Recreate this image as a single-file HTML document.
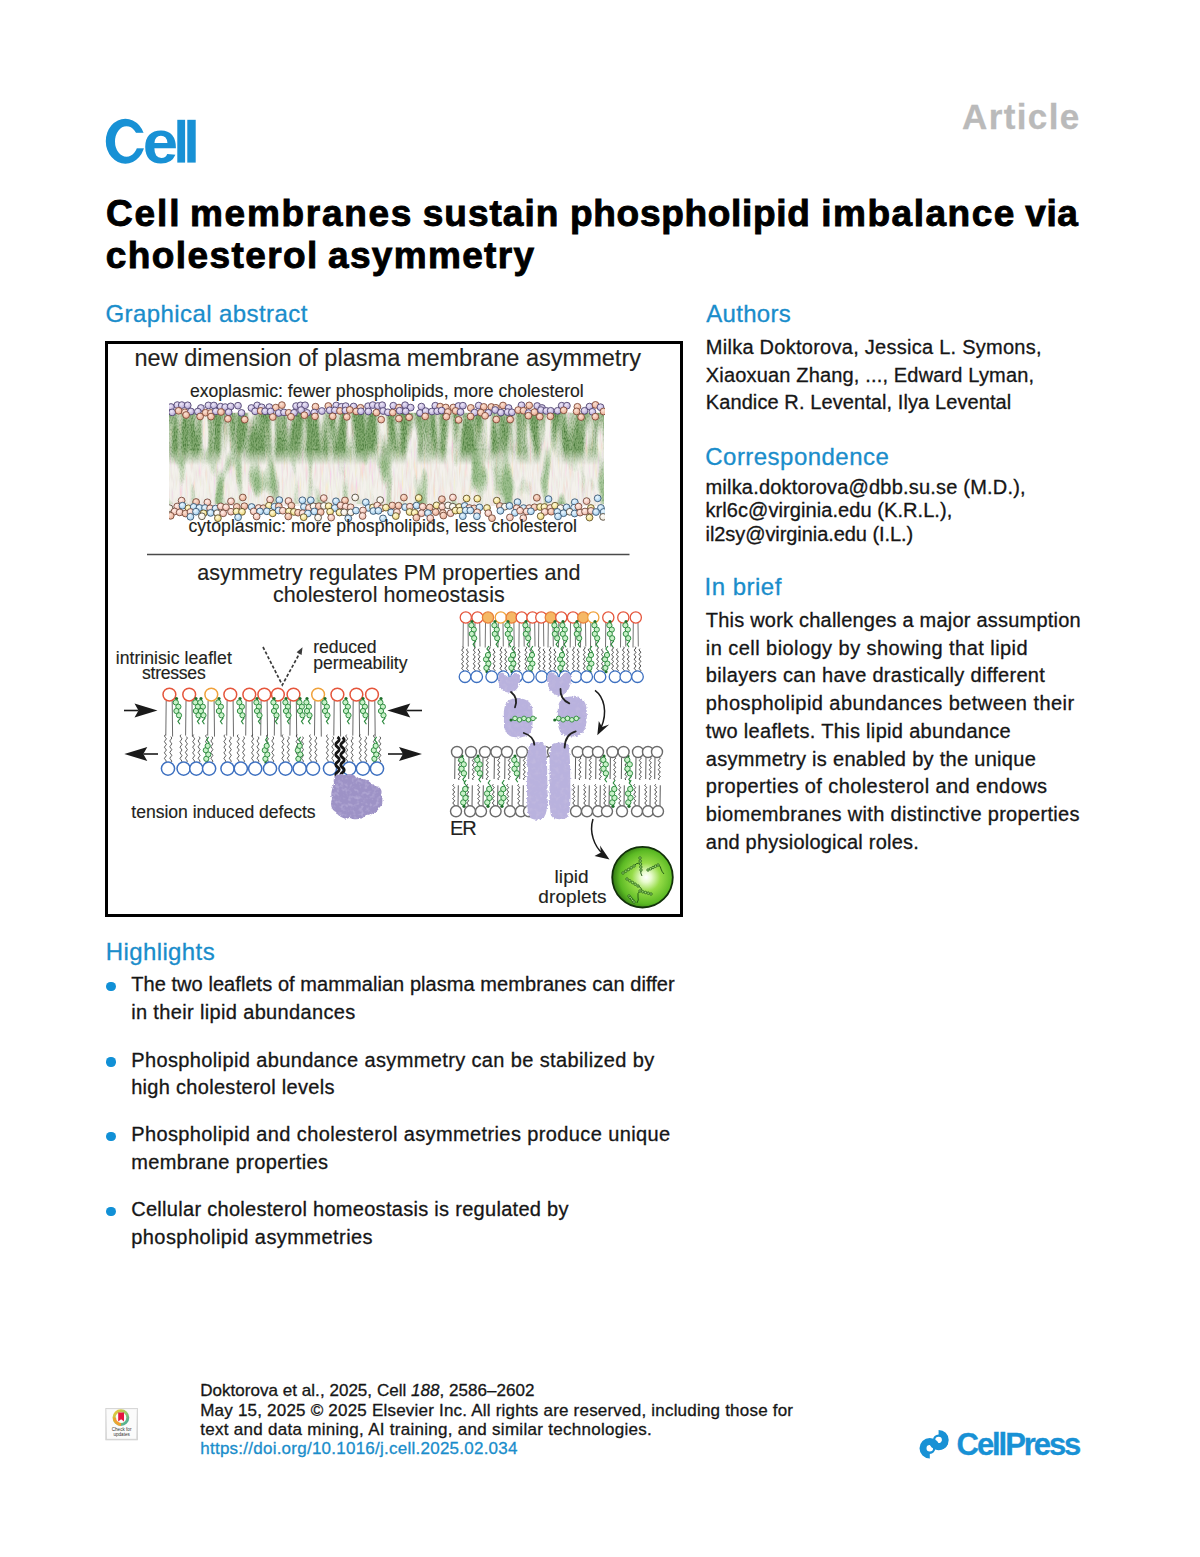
<!DOCTYPE html>
<html><head><meta charset="utf-8"><title>Cell membranes sustain phospholipid imbalance via cholesterol asymmetry</title>
<style>
html,body{margin:0;padding:0;background:#fff;}
body{width:1200px;height:1557px;position:relative;overflow:hidden;font-family:"Liberation Sans",sans-serif;color:#161616;}
.t{position:absolute;line-height:1;white-space:nowrap;-webkit-text-stroke:0.3px currentColor;}
.tt{-webkit-text-stroke:0.9px #000;}
.fg{-webkit-text-stroke:0.15px currentColor;}
.box{position:absolute;left:105px;top:341px;width:572px;height:570px;border:3px solid #000;}
.bul{position:absolute;width:9.3px;height:9.3px;border-radius:50%;background:#1190d6;}
svg.ov{position:absolute;left:0;top:0;}
</style></head><body>
<div class="box"></div>
<svg class="ov" width="1200" height="1557" viewBox="0 0 1200 1557"><defs><clipPath id="mclip"><rect x="169" y="398" width="436" height="124"/></clipPath><radialGradient id="ld" cx="0.56" cy="0.5" r="0.56"><stop offset="0" stop-color="#ffffff"/><stop offset="0.15" stop-color="#eafcd0"/><stop offset="0.42" stop-color="#96dc48"/><stop offset="0.78" stop-color="#5cba24"/><stop offset="1" stop-color="#2f7612"/></radialGradient><radialGradient id="hp" cx="0.4" cy="0.35" r="0.7"><stop offset="0" stop-color="#eee8f8"/><stop offset="1" stop-color="#b2a4d4"/></radialGradient><radialGradient id="ho" cx="0.4" cy="0.35" r="0.7"><stop offset="0" stop-color="#fbe4d6"/><stop offset="1" stop-color="#e8a68c"/></radialGradient><radialGradient id="hb" cx="0.4" cy="0.35" r="0.7"><stop offset="0" stop-color="#eef8ff"/><stop offset="1" stop-color="#9ccbec"/></radialGradient><radialGradient id="hy" cx="0.4" cy="0.35" r="0.7"><stop offset="0" stop-color="#fffbe0"/><stop offset="1" stop-color="#ecd46c"/></radialGradient><radialGradient id="hk" cx="0.4" cy="0.35" r="0.7"><stop offset="0" stop-color="#fff0ea"/><stop offset="1" stop-color="#eeb4a4"/></radialGradient><radialGradient id="hw" cx="0.4" cy="0.35" r="0.7"><stop offset="0" stop-color="#ffffff"/><stop offset="1" stop-color="#eee4d4"/></radialGradient><filter id="gtop" x="0" y="0" width="1" height="1" color-interpolation-filters="sRGB"><feTurbulence type="fractalNoise" baseFrequency="0.085 0.012" numOctaves="2" seed="11" result="n1"/><feColorMatrix in="n1" type="matrix" values="0 0 0 0 0.50  0 0 0 0 0.66  0 0 0 0 0.43  3.6 0 0 0 -1.15" result="c1"/><feTurbulence type="fractalNoise" baseFrequency="0.9 0.45" numOctaves="1" seed="4" result="n2"/><feColorMatrix in="n2" type="matrix" values="0 0 0 0 0.25  0 0 0 0 0.45  0 0 0 0 0.2  2.2 0 0 0 -0.9" result="c2"/><feComposite in="c2" in2="c1" operator="in" result="c3"/><feMerge><feMergeNode in="c1"/><feMergeNode in="c3"/></feMerge><feComposite in2="SourceGraphic" operator="in"/></filter><filter id="gbot" x="0" y="0" width="1" height="1" color-interpolation-filters="sRGB"><feTurbulence type="fractalNoise" baseFrequency="0.07 0.02" numOctaves="2" seed="23" result="n1"/><feColorMatrix in="n1" type="matrix" values="0 0 0 0 0.52  0 0 0 0 0.70  0 0 0 0 0.46  4.5 0 0 0 -2.3" result="c1"/><feTurbulence type="fractalNoise" baseFrequency="0.9 0.45" numOctaves="1" seed="8" result="n2"/><feColorMatrix in="n2" type="matrix" values="0 0 0 0 0.3  0 0 0 0 0.52  0 0 0 0 0.25  2.2 0 0 0 -0.95" result="c2"/><feComposite in="c2" in2="c1" operator="in" result="c3"/><feMerge><feMergeNode in="c1"/><feMergeNode in="c3"/></feMerge><feComposite in2="SourceGraphic" operator="in"/></filter><filter id="past" x="0" y="0" width="1" height="1" color-interpolation-filters="sRGB"><feTurbulence type="fractalNoise" baseFrequency="0.5 0.05" numOctaves="2" seed="2" result="n1"/><feColorMatrix in="n1" type="matrix" values="1.2 0 0 0 0.1  0 1.0 0 0 0.2  0 0 1.0 0 0.15  2 0 0 0 -0.75"/><feComposite in2="SourceGraphic" operator="in"/></filter></defs><g clip-path="url(#mclip)"><rect x="169" y="412" width="435" height="94" fill="#f4f1ec"/><rect x="169" y="412" width="435" height="94" fill="#fff" filter="url(#past)" opacity="0.3"/><defs><linearGradient id="fT" x1="0" y1="0" x2="0" y2="1"><stop offset="0" stop-color="#fff"/><stop offset="0.7" stop-color="#fff"/><stop offset="1" stop-color="#000"/></linearGradient><linearGradient id="fB" x1="0" y1="0" x2="0" y2="1"><stop offset="0" stop-color="#000"/><stop offset="0.3" stop-color="#fff"/><stop offset="1" stop-color="#fff"/></linearGradient><mask id="mT" maskUnits="userSpaceOnUse" x="169" y="410" width="436" height="60"><rect x="169" y="413" width="436" height="52" fill="url(#fT)"/></mask><mask id="mB" maskUnits="userSpaceOnUse" x="169" y="440" width="436" height="70"><rect x="169" y="446" width="436" height="58" fill="url(#fB)"/></mask></defs><g mask="url(#mT)"><rect x="169" y="413" width="435" height="52" fill="#fff" filter="url(#gtop)"/></g><g mask="url(#mB)" opacity="0.8"><rect x="169" y="446" width="435" height="58" fill="#fff" filter="url(#gbot)"/></g><circle cx="171.0" cy="407.0" r="3.4" fill="url(#hp)" stroke="#4a3e6a" stroke-width="0.85"/><circle cx="177.3" cy="405.1" r="3.4" fill="url(#hp)" stroke="#4a3e6a" stroke-width="0.85"/><circle cx="181.8" cy="405.1" r="3.4" fill="url(#hp)" stroke="#4a3e6a" stroke-width="0.85"/><circle cx="187.7" cy="405.3" r="3.4" fill="url(#hp)" stroke="#4a3e6a" stroke-width="0.85"/><circle cx="200.9" cy="408.0" r="3.4" fill="url(#hp)" stroke="#4a3e6a" stroke-width="0.85"/><circle cx="208.4" cy="405.4" r="3.4" fill="url(#hp)" stroke="#4a3e6a" stroke-width="0.85"/><circle cx="213.9" cy="405.5" r="3.4" fill="url(#hp)" stroke="#4a3e6a" stroke-width="0.85"/><circle cx="220.6" cy="406.7" r="3.4" fill="url(#hp)" stroke="#4a3e6a" stroke-width="0.85"/><circle cx="225.2" cy="407.1" r="3.4" fill="url(#hp)" stroke="#4a3e6a" stroke-width="0.85"/><circle cx="230.7" cy="406.4" r="3.4" fill="url(#hp)" stroke="#4a3e6a" stroke-width="0.85"/><circle cx="238.0" cy="405.7" r="3.4" fill="url(#hp)" stroke="#4a3e6a" stroke-width="0.85"/><circle cx="251.4" cy="408.0" r="3.4" fill="url(#hp)" stroke="#4a3e6a" stroke-width="0.85"/><circle cx="257.2" cy="405.4" r="3.4" fill="url(#hp)" stroke="#4a3e6a" stroke-width="0.85"/><circle cx="261.7" cy="407.3" r="3.4" fill="url(#hp)" stroke="#4a3e6a" stroke-width="0.85"/><circle cx="269.3" cy="407.1" r="3.4" fill="url(#hp)" stroke="#4a3e6a" stroke-width="0.85"/><circle cx="275.8" cy="407.6" r="3.4" fill="url(#ho)" stroke="#7a4434" stroke-width="0.85"/><circle cx="281.9" cy="405.1" r="3.4" fill="url(#ho)" stroke="#7a4434" stroke-width="0.85"/><circle cx="296.1" cy="406.1" r="3.4" fill="url(#hp)" stroke="#4a3e6a" stroke-width="0.85"/><circle cx="300.5" cy="405.4" r="3.4" fill="url(#hp)" stroke="#4a3e6a" stroke-width="0.85"/><circle cx="305.1" cy="405.3" r="3.4" fill="url(#hp)" stroke="#4a3e6a" stroke-width="0.85"/><circle cx="315.5" cy="406.7" r="3.4" fill="url(#ho)" stroke="#7a4434" stroke-width="0.85"/><circle cx="328.3" cy="406.0" r="3.4" fill="url(#ho)" stroke="#7a4434" stroke-width="0.85"/><circle cx="336.2" cy="405.5" r="3.4" fill="url(#hp)" stroke="#4a3e6a" stroke-width="0.85"/><circle cx="341.4" cy="406.8" r="3.4" fill="url(#hp)" stroke="#4a3e6a" stroke-width="0.85"/><circle cx="345.7" cy="406.1" r="3.4" fill="url(#hp)" stroke="#4a3e6a" stroke-width="0.85"/><circle cx="353.6" cy="406.5" r="3.4" fill="url(#hp)" stroke="#4a3e6a" stroke-width="0.85"/><circle cx="360.5" cy="407.8" r="3.4" fill="url(#ho)" stroke="#7a4434" stroke-width="0.85"/><circle cx="368.1" cy="406.2" r="3.4" fill="url(#hp)" stroke="#4a3e6a" stroke-width="0.85"/><circle cx="372.8" cy="405.1" r="3.4" fill="url(#hp)" stroke="#4a3e6a" stroke-width="0.85"/><circle cx="377.9" cy="406.0" r="3.4" fill="url(#hp)" stroke="#4a3e6a" stroke-width="0.85"/><circle cx="382.2" cy="405.2" r="3.4" fill="url(#hp)" stroke="#4a3e6a" stroke-width="0.85"/><circle cx="393.3" cy="405.7" r="3.4" fill="url(#hp)" stroke="#4a3e6a" stroke-width="0.85"/><circle cx="399.0" cy="407.6" r="3.4" fill="url(#ho)" stroke="#7a4434" stroke-width="0.85"/><circle cx="405.1" cy="405.2" r="3.4" fill="url(#hp)" stroke="#4a3e6a" stroke-width="0.85"/><circle cx="410.7" cy="407.6" r="3.4" fill="url(#hp)" stroke="#4a3e6a" stroke-width="0.85"/><circle cx="421.4" cy="406.6" r="3.4" fill="url(#hp)" stroke="#4a3e6a" stroke-width="0.85"/><circle cx="435.3" cy="405.7" r="3.4" fill="url(#hp)" stroke="#4a3e6a" stroke-width="0.85"/><circle cx="440.2" cy="406.6" r="3.4" fill="url(#ho)" stroke="#7a4434" stroke-width="0.85"/><circle cx="445.8" cy="407.5" r="3.4" fill="url(#ho)" stroke="#7a4434" stroke-width="0.85"/><circle cx="453.3" cy="407.5" r="3.4" fill="url(#ho)" stroke="#7a4434" stroke-width="0.85"/><circle cx="458.5" cy="406.0" r="3.4" fill="url(#hp)" stroke="#4a3e6a" stroke-width="0.85"/><circle cx="462.9" cy="405.7" r="3.4" fill="url(#hp)" stroke="#4a3e6a" stroke-width="0.85"/><circle cx="470.8" cy="407.9" r="3.4" fill="url(#ho)" stroke="#7a4434" stroke-width="0.85"/><circle cx="478.7" cy="405.6" r="3.4" fill="url(#hp)" stroke="#4a3e6a" stroke-width="0.85"/><circle cx="483.8" cy="406.9" r="3.4" fill="url(#ho)" stroke="#7a4434" stroke-width="0.85"/><circle cx="491.3" cy="407.0" r="3.4" fill="url(#ho)" stroke="#7a4434" stroke-width="0.85"/><circle cx="495.9" cy="407.8" r="3.4" fill="url(#ho)" stroke="#7a4434" stroke-width="0.85"/><circle cx="503.0" cy="405.5" r="3.4" fill="url(#ho)" stroke="#7a4434" stroke-width="0.85"/><circle cx="508.6" cy="408.0" r="3.4" fill="url(#hp)" stroke="#4a3e6a" stroke-width="0.85"/><circle cx="521.5" cy="405.3" r="3.4" fill="url(#hp)" stroke="#4a3e6a" stroke-width="0.85"/><circle cx="529.2" cy="405.4" r="3.4" fill="url(#ho)" stroke="#7a4434" stroke-width="0.85"/><circle cx="537.2" cy="406.0" r="3.4" fill="url(#hp)" stroke="#4a3e6a" stroke-width="0.85"/><circle cx="542.0" cy="408.0" r="3.4" fill="url(#hp)" stroke="#4a3e6a" stroke-width="0.85"/><circle cx="561.7" cy="405.7" r="3.4" fill="url(#hp)" stroke="#4a3e6a" stroke-width="0.85"/><circle cx="566.9" cy="405.7" r="3.4" fill="url(#hp)" stroke="#4a3e6a" stroke-width="0.85"/><circle cx="577.4" cy="406.8" r="3.4" fill="url(#ho)" stroke="#7a4434" stroke-width="0.85"/><circle cx="589.5" cy="406.6" r="3.4" fill="url(#hp)" stroke="#4a3e6a" stroke-width="0.85"/><circle cx="595.5" cy="404.9" r="3.4" fill="url(#ho)" stroke="#7a4434" stroke-width="0.85"/><circle cx="600.5" cy="407.2" r="3.4" fill="url(#hp)" stroke="#4a3e6a" stroke-width="0.85"/><circle cx="172.2" cy="412.4" r="3.4" fill="url(#hp)" stroke="#4a3e6a" stroke-width="0.85"/><circle cx="178.6" cy="410.8" r="3.4" fill="url(#ho)" stroke="#7a4434" stroke-width="0.85"/><circle cx="184.9" cy="412.3" r="3.4" fill="url(#ho)" stroke="#7a4434" stroke-width="0.85"/><circle cx="190.9" cy="411.5" r="3.4" fill="url(#hp)" stroke="#4a3e6a" stroke-width="0.85"/><circle cx="197.8" cy="411.6" r="3.4" fill="url(#hp)" stroke="#4a3e6a" stroke-width="0.85"/><circle cx="205.6" cy="412.7" r="3.4" fill="url(#ho)" stroke="#7a4434" stroke-width="0.85"/><circle cx="210.9" cy="412.9" r="3.4" fill="url(#ho)" stroke="#7a4434" stroke-width="0.85"/><circle cx="215.8" cy="411.3" r="3.4" fill="url(#hp)" stroke="#4a3e6a" stroke-width="0.85"/><circle cx="221.0" cy="412.0" r="3.4" fill="url(#ho)" stroke="#7a4434" stroke-width="0.85"/><circle cx="228.7" cy="412.2" r="3.4" fill="url(#hp)" stroke="#4a3e6a" stroke-width="0.85"/><circle cx="241.5" cy="412.9" r="3.4" fill="url(#hp)" stroke="#4a3e6a" stroke-width="0.85"/><circle cx="255.1" cy="411.3" r="3.4" fill="url(#hp)" stroke="#4a3e6a" stroke-width="0.85"/><circle cx="260.7" cy="410.9" r="3.4" fill="url(#ho)" stroke="#7a4434" stroke-width="0.85"/><circle cx="265.1" cy="411.3" r="3.4" fill="url(#hp)" stroke="#4a3e6a" stroke-width="0.85"/><circle cx="270.7" cy="411.5" r="3.4" fill="url(#hp)" stroke="#4a3e6a" stroke-width="0.85"/><circle cx="278.7" cy="413.0" r="3.4" fill="url(#hp)" stroke="#4a3e6a" stroke-width="0.85"/><circle cx="284.0" cy="412.4" r="3.4" fill="url(#hp)" stroke="#4a3e6a" stroke-width="0.85"/><circle cx="288.8" cy="412.8" r="3.4" fill="url(#ho)" stroke="#7a4434" stroke-width="0.85"/><circle cx="294.1" cy="412.8" r="3.4" fill="url(#hp)" stroke="#4a3e6a" stroke-width="0.85"/><circle cx="301.1" cy="410.1" r="3.4" fill="url(#hp)" stroke="#4a3e6a" stroke-width="0.85"/><circle cx="307.0" cy="412.9" r="3.4" fill="url(#hp)" stroke="#4a3e6a" stroke-width="0.85"/><circle cx="314.3" cy="412.6" r="3.4" fill="url(#hp)" stroke="#4a3e6a" stroke-width="0.85"/><circle cx="321.9" cy="411.0" r="3.4" fill="url(#hp)" stroke="#4a3e6a" stroke-width="0.85"/><circle cx="329.7" cy="410.3" r="3.4" fill="url(#hp)" stroke="#4a3e6a" stroke-width="0.85"/><circle cx="334.9" cy="410.4" r="3.4" fill="url(#hp)" stroke="#4a3e6a" stroke-width="0.85"/><circle cx="340.0" cy="410.9" r="3.4" fill="url(#ho)" stroke="#7a4434" stroke-width="0.85"/><circle cx="345.4" cy="410.5" r="3.4" fill="url(#hp)" stroke="#4a3e6a" stroke-width="0.85"/><circle cx="349.8" cy="409.9" r="3.4" fill="url(#ho)" stroke="#7a4434" stroke-width="0.85"/><circle cx="356.2" cy="411.4" r="3.4" fill="url(#ho)" stroke="#7a4434" stroke-width="0.85"/><circle cx="360.9" cy="411.3" r="3.4" fill="url(#hp)" stroke="#4a3e6a" stroke-width="0.85"/><circle cx="368.4" cy="411.5" r="3.4" fill="url(#hp)" stroke="#4a3e6a" stroke-width="0.85"/><circle cx="376.4" cy="412.6" r="3.4" fill="url(#ho)" stroke="#7a4434" stroke-width="0.85"/><circle cx="383.1" cy="411.0" r="3.4" fill="url(#hp)" stroke="#4a3e6a" stroke-width="0.85"/><circle cx="387.9" cy="412.3" r="3.4" fill="url(#hp)" stroke="#4a3e6a" stroke-width="0.85"/><circle cx="392.8" cy="412.6" r="3.4" fill="url(#ho)" stroke="#7a4434" stroke-width="0.85"/><circle cx="399.7" cy="410.7" r="3.4" fill="url(#hp)" stroke="#4a3e6a" stroke-width="0.85"/><circle cx="405.7" cy="411.3" r="3.4" fill="url(#hp)" stroke="#4a3e6a" stroke-width="0.85"/><circle cx="420.0" cy="413.0" r="3.4" fill="url(#hp)" stroke="#4a3e6a" stroke-width="0.85"/><circle cx="425.7" cy="411.1" r="3.4" fill="url(#hp)" stroke="#4a3e6a" stroke-width="0.85"/><circle cx="431.9" cy="411.5" r="3.4" fill="url(#hp)" stroke="#4a3e6a" stroke-width="0.85"/><circle cx="437.2" cy="411.2" r="3.4" fill="url(#hp)" stroke="#4a3e6a" stroke-width="0.85"/><circle cx="441.6" cy="410.6" r="3.4" fill="url(#hp)" stroke="#4a3e6a" stroke-width="0.85"/><circle cx="447.9" cy="412.0" r="3.4" fill="url(#ho)" stroke="#7a4434" stroke-width="0.85"/><circle cx="455.6" cy="410.9" r="3.4" fill="url(#ho)" stroke="#7a4434" stroke-width="0.85"/><circle cx="460.5" cy="412.0" r="3.4" fill="url(#hp)" stroke="#4a3e6a" stroke-width="0.85"/><circle cx="474.6" cy="412.5" r="3.4" fill="url(#hp)" stroke="#4a3e6a" stroke-width="0.85"/><circle cx="480.9" cy="412.6" r="3.4" fill="url(#ho)" stroke="#7a4434" stroke-width="0.85"/><circle cx="488.3" cy="412.8" r="3.4" fill="url(#hp)" stroke="#4a3e6a" stroke-width="0.85"/><circle cx="495.2" cy="410.0" r="3.4" fill="url(#hp)" stroke="#4a3e6a" stroke-width="0.85"/><circle cx="500.9" cy="412.6" r="3.4" fill="url(#hp)" stroke="#4a3e6a" stroke-width="0.85"/><circle cx="507.6" cy="412.1" r="3.4" fill="url(#hp)" stroke="#4a3e6a" stroke-width="0.85"/><circle cx="511.9" cy="412.3" r="3.4" fill="url(#hp)" stroke="#4a3e6a" stroke-width="0.85"/><circle cx="518.2" cy="410.1" r="3.4" fill="url(#ho)" stroke="#7a4434" stroke-width="0.85"/><circle cx="523.5" cy="410.7" r="3.4" fill="url(#ho)" stroke="#7a4434" stroke-width="0.85"/><circle cx="528.6" cy="413.0" r="3.4" fill="url(#hp)" stroke="#4a3e6a" stroke-width="0.85"/><circle cx="534.4" cy="412.1" r="3.4" fill="url(#ho)" stroke="#7a4434" stroke-width="0.85"/><circle cx="541.0" cy="410.1" r="3.4" fill="url(#hp)" stroke="#4a3e6a" stroke-width="0.85"/><circle cx="546.3" cy="410.9" r="3.4" fill="url(#hp)" stroke="#4a3e6a" stroke-width="0.85"/><circle cx="550.7" cy="410.8" r="3.4" fill="url(#hp)" stroke="#4a3e6a" stroke-width="0.85"/><circle cx="557.6" cy="410.8" r="3.4" fill="url(#hp)" stroke="#4a3e6a" stroke-width="0.85"/><circle cx="563.7" cy="410.3" r="3.4" fill="url(#ho)" stroke="#7a4434" stroke-width="0.85"/><circle cx="576.6" cy="411.4" r="3.4" fill="url(#ho)" stroke="#7a4434" stroke-width="0.85"/><circle cx="584.5" cy="410.8" r="3.4" fill="url(#hp)" stroke="#4a3e6a" stroke-width="0.85"/><circle cx="592.4" cy="411.8" r="3.4" fill="url(#hp)" stroke="#4a3e6a" stroke-width="0.85"/><circle cx="603.5" cy="411.5" r="3.4" fill="url(#ho)" stroke="#7a4434" stroke-width="0.85"/><circle cx="186.1" cy="415.0" r="3.4" fill="url(#ho)" stroke="#7a4434" stroke-width="0.85"/><circle cx="200.1" cy="416.5" r="3.4" fill="url(#ho)" stroke="#7a4434" stroke-width="0.85"/><circle cx="211.0" cy="416.6" r="3.4" fill="url(#ho)" stroke="#7a4434" stroke-width="0.85"/><circle cx="227.9" cy="418.8" r="3.4" fill="url(#ho)" stroke="#7a4434" stroke-width="0.85"/><circle cx="244.7" cy="419.6" r="3.4" fill="url(#ho)" stroke="#7a4434" stroke-width="0.85"/><circle cx="272.8" cy="417.0" r="3.4" fill="url(#ho)" stroke="#7a4434" stroke-width="0.85"/><circle cx="291.0" cy="416.8" r="3.4" fill="url(#ho)" stroke="#7a4434" stroke-width="0.85"/><circle cx="304.4" cy="415.2" r="3.4" fill="url(#ho)" stroke="#7a4434" stroke-width="0.85"/><circle cx="315.0" cy="416.4" r="3.4" fill="url(#ho)" stroke="#7a4434" stroke-width="0.85"/><circle cx="332.7" cy="416.3" r="3.4" fill="url(#ho)" stroke="#7a4434" stroke-width="0.85"/><circle cx="346.8" cy="416.9" r="3.4" fill="url(#ho)" stroke="#7a4434" stroke-width="0.85"/><circle cx="381.2" cy="419.6" r="3.4" fill="url(#ho)" stroke="#7a4434" stroke-width="0.85"/><circle cx="398.9" cy="418.6" r="3.4" fill="url(#ho)" stroke="#7a4434" stroke-width="0.85"/><circle cx="409.1" cy="417.3" r="3.4" fill="url(#ho)" stroke="#7a4434" stroke-width="0.85"/><circle cx="425.2" cy="416.4" r="3.4" fill="url(#ho)" stroke="#7a4434" stroke-width="0.85"/><circle cx="446.3" cy="416.7" r="3.4" fill="url(#ho)" stroke="#7a4434" stroke-width="0.85"/><circle cx="458.6" cy="419.9" r="3.4" fill="url(#ho)" stroke="#7a4434" stroke-width="0.85"/><circle cx="470.6" cy="416.5" r="3.4" fill="url(#ho)" stroke="#7a4434" stroke-width="0.85"/><circle cx="485.1" cy="415.8" r="3.4" fill="url(#ho)" stroke="#7a4434" stroke-width="0.85"/><circle cx="496.3" cy="419.5" r="3.4" fill="url(#ho)" stroke="#7a4434" stroke-width="0.85"/><circle cx="510.2" cy="419.5" r="3.4" fill="url(#ho)" stroke="#7a4434" stroke-width="0.85"/><circle cx="528.4" cy="415.7" r="3.4" fill="url(#ho)" stroke="#7a4434" stroke-width="0.85"/><circle cx="539.8" cy="416.7" r="3.4" fill="url(#ho)" stroke="#7a4434" stroke-width="0.85"/><circle cx="550.4" cy="416.3" r="3.4" fill="url(#ho)" stroke="#7a4434" stroke-width="0.85"/><circle cx="581.1" cy="417.1" r="3.4" fill="url(#ho)" stroke="#7a4434" stroke-width="0.85"/><circle cx="595.3" cy="416.7" r="3.4" fill="url(#ho)" stroke="#7a4434" stroke-width="0.85"/><circle cx="181.6" cy="500.6" r="3.4" fill="url(#hk)" stroke="#6e4438" stroke-width="0.85"/><circle cx="196.1" cy="502.0" r="3.4" fill="url(#ho)" stroke="#6e4434" stroke-width="0.85"/><circle cx="207.4" cy="502.3" r="3.4" fill="url(#hk)" stroke="#6e4438" stroke-width="0.85"/><circle cx="231.0" cy="501.3" r="3.4" fill="url(#hk)" stroke="#6e4438" stroke-width="0.85"/><circle cx="242.8" cy="497.5" r="3.4" fill="url(#ho)" stroke="#6e4434" stroke-width="0.85"/><circle cx="270.1" cy="499.7" r="3.4" fill="url(#hk)" stroke="#6e4438" stroke-width="0.85"/><circle cx="279.3" cy="500.1" r="3.4" fill="url(#hb)" stroke="#34506c" stroke-width="0.85"/><circle cx="288.5" cy="501.0" r="3.4" fill="url(#hk)" stroke="#6e4438" stroke-width="0.85"/><circle cx="302.4" cy="500.3" r="3.4" fill="url(#hb)" stroke="#34506c" stroke-width="0.85"/><circle cx="310.8" cy="500.3" r="3.4" fill="url(#hb)" stroke="#34506c" stroke-width="0.85"/><circle cx="323.8" cy="498.1" r="3.4" fill="url(#hk)" stroke="#6e4438" stroke-width="0.85"/><circle cx="336.0" cy="501.3" r="3.4" fill="url(#hb)" stroke="#34506c" stroke-width="0.85"/><circle cx="345.0" cy="500.4" r="3.4" fill="url(#ho)" stroke="#6e4434" stroke-width="0.85"/><circle cx="355.2" cy="497.5" r="3.4" fill="url(#hw)" stroke="#4a4234" stroke-width="0.85"/><circle cx="365.8" cy="502.3" r="3.4" fill="url(#hb)" stroke="#34506c" stroke-width="0.85"/><circle cx="380.2" cy="500.1" r="3.4" fill="url(#hw)" stroke="#4a4234" stroke-width="0.85"/><circle cx="403.9" cy="497.6" r="3.4" fill="url(#ho)" stroke="#6e4434" stroke-width="0.85"/><circle cx="418.7" cy="497.9" r="3.4" fill="url(#hy)" stroke="#5a4a24" stroke-width="0.85"/><circle cx="441.9" cy="499.2" r="3.4" fill="url(#ho)" stroke="#6e4434" stroke-width="0.85"/><circle cx="452.9" cy="497.5" r="3.4" fill="url(#hk)" stroke="#6e4438" stroke-width="0.85"/><circle cx="466.6" cy="498.5" r="3.4" fill="url(#hy)" stroke="#5a4a24" stroke-width="0.85"/><circle cx="477.3" cy="498.7" r="3.4" fill="url(#hy)" stroke="#5a4a24" stroke-width="0.85"/><circle cx="496.8" cy="500.6" r="3.4" fill="url(#hy)" stroke="#5a4a24" stroke-width="0.85"/><circle cx="517.5" cy="502.1" r="3.4" fill="url(#hb)" stroke="#34506c" stroke-width="0.85"/><circle cx="536.8" cy="497.8" r="3.4" fill="url(#ho)" stroke="#6e4434" stroke-width="0.85"/><circle cx="548.5" cy="499.1" r="3.4" fill="url(#hb)" stroke="#34506c" stroke-width="0.85"/><circle cx="574.8" cy="502.2" r="3.4" fill="url(#hb)" stroke="#34506c" stroke-width="0.85"/><circle cx="586.6" cy="501.1" r="3.4" fill="url(#hk)" stroke="#6e4438" stroke-width="0.85"/><circle cx="597.7" cy="498.3" r="3.4" fill="url(#hb)" stroke="#34506c" stroke-width="0.85"/><circle cx="169.5" cy="508.2" r="3.4" fill="url(#hw)" stroke="#4a4234" stroke-width="0.85"/><circle cx="177.2" cy="506.5" r="3.4" fill="url(#hk)" stroke="#6e4438" stroke-width="0.85"/><circle cx="182.5" cy="505.7" r="3.4" fill="url(#hb)" stroke="#34506c" stroke-width="0.85"/><circle cx="188.4" cy="508.3" r="3.4" fill="url(#hy)" stroke="#5a4a24" stroke-width="0.85"/><circle cx="193.7" cy="506.9" r="3.4" fill="url(#hb)" stroke="#34506c" stroke-width="0.85"/><circle cx="199.4" cy="507.9" r="3.4" fill="url(#hb)" stroke="#34506c" stroke-width="0.85"/><circle cx="205.0" cy="508.0" r="3.4" fill="url(#hb)" stroke="#34506c" stroke-width="0.85"/><circle cx="210.1" cy="508.3" r="3.4" fill="url(#hk)" stroke="#6e4438" stroke-width="0.85"/><circle cx="215.6" cy="508.5" r="3.4" fill="url(#hb)" stroke="#34506c" stroke-width="0.85"/><circle cx="220.7" cy="506.4" r="3.4" fill="url(#hk)" stroke="#6e4438" stroke-width="0.85"/><circle cx="226.0" cy="507.3" r="3.4" fill="url(#hk)" stroke="#6e4438" stroke-width="0.85"/><circle cx="236.8" cy="506.9" r="3.4" fill="url(#ho)" stroke="#6e4434" stroke-width="0.85"/><circle cx="244.4" cy="506.2" r="3.4" fill="url(#ho)" stroke="#6e4434" stroke-width="0.85"/><circle cx="251.6" cy="507.0" r="3.4" fill="url(#hb)" stroke="#34506c" stroke-width="0.85"/><circle cx="258.6" cy="508.0" r="3.4" fill="url(#hk)" stroke="#6e4438" stroke-width="0.85"/><circle cx="263.4" cy="508.2" r="3.4" fill="url(#ho)" stroke="#6e4434" stroke-width="0.85"/><circle cx="268.9" cy="505.7" r="3.4" fill="url(#hy)" stroke="#5a4a24" stroke-width="0.85"/><circle cx="274.5" cy="506.7" r="3.4" fill="url(#hb)" stroke="#34506c" stroke-width="0.85"/><circle cx="278.8" cy="506.4" r="3.4" fill="url(#ho)" stroke="#6e4434" stroke-width="0.85"/><circle cx="291.4" cy="505.7" r="3.4" fill="url(#ho)" stroke="#6e4434" stroke-width="0.85"/><circle cx="303.9" cy="506.9" r="3.4" fill="url(#hb)" stroke="#34506c" stroke-width="0.85"/><circle cx="309.0" cy="507.9" r="3.4" fill="url(#hk)" stroke="#6e4438" stroke-width="0.85"/><circle cx="313.6" cy="506.3" r="3.4" fill="url(#hw)" stroke="#4a4234" stroke-width="0.85"/><circle cx="318.8" cy="506.2" r="3.4" fill="url(#ho)" stroke="#6e4434" stroke-width="0.85"/><circle cx="323.9" cy="505.9" r="3.4" fill="url(#hw)" stroke="#4a4234" stroke-width="0.85"/><circle cx="328.7" cy="506.2" r="3.4" fill="url(#hy)" stroke="#5a4a24" stroke-width="0.85"/><circle cx="334.8" cy="508.0" r="3.4" fill="url(#hb)" stroke="#34506c" stroke-width="0.85"/><circle cx="340.6" cy="505.4" r="3.4" fill="url(#hk)" stroke="#6e4438" stroke-width="0.85"/><circle cx="345.7" cy="506.6" r="3.4" fill="url(#hk)" stroke="#6e4438" stroke-width="0.85"/><circle cx="350.7" cy="507.3" r="3.4" fill="url(#hk)" stroke="#6e4438" stroke-width="0.85"/><circle cx="368.4" cy="507.9" r="3.4" fill="url(#hb)" stroke="#34506c" stroke-width="0.85"/><circle cx="373.0" cy="507.4" r="3.4" fill="url(#hy)" stroke="#5a4a24" stroke-width="0.85"/><circle cx="377.3" cy="505.5" r="3.4" fill="url(#hk)" stroke="#6e4438" stroke-width="0.85"/><circle cx="381.6" cy="508.3" r="3.4" fill="url(#hk)" stroke="#6e4438" stroke-width="0.85"/><circle cx="385.9" cy="507.6" r="3.4" fill="url(#hy)" stroke="#5a4a24" stroke-width="0.85"/><circle cx="392.3" cy="505.5" r="3.4" fill="url(#ho)" stroke="#6e4434" stroke-width="0.85"/><circle cx="398.5" cy="505.7" r="3.4" fill="url(#ho)" stroke="#6e4434" stroke-width="0.85"/><circle cx="405.1" cy="507.1" r="3.4" fill="url(#hb)" stroke="#34506c" stroke-width="0.85"/><circle cx="409.9" cy="506.7" r="3.4" fill="url(#hk)" stroke="#6e4438" stroke-width="0.85"/><circle cx="416.5" cy="505.6" r="3.4" fill="url(#hb)" stroke="#34506c" stroke-width="0.85"/><circle cx="422.7" cy="506.7" r="3.4" fill="url(#hk)" stroke="#6e4438" stroke-width="0.85"/><circle cx="429.7" cy="507.5" r="3.4" fill="url(#ho)" stroke="#6e4434" stroke-width="0.85"/><circle cx="436.5" cy="505.4" r="3.4" fill="url(#hy)" stroke="#5a4a24" stroke-width="0.85"/><circle cx="442.2" cy="506.7" r="3.4" fill="url(#hk)" stroke="#6e4438" stroke-width="0.85"/><circle cx="448.1" cy="505.4" r="3.4" fill="url(#hw)" stroke="#4a4234" stroke-width="0.85"/><circle cx="452.8" cy="506.7" r="3.4" fill="url(#hw)" stroke="#4a4234" stroke-width="0.85"/><circle cx="459.2" cy="507.0" r="3.4" fill="url(#hy)" stroke="#5a4a24" stroke-width="0.85"/><circle cx="464.7" cy="505.9" r="3.4" fill="url(#hb)" stroke="#34506c" stroke-width="0.85"/><circle cx="469.3" cy="508.0" r="3.4" fill="url(#hk)" stroke="#6e4438" stroke-width="0.85"/><circle cx="474.2" cy="508.4" r="3.4" fill="url(#ho)" stroke="#6e4434" stroke-width="0.85"/><circle cx="479.5" cy="507.4" r="3.4" fill="url(#hb)" stroke="#34506c" stroke-width="0.85"/><circle cx="487.0" cy="508.0" r="3.4" fill="url(#hy)" stroke="#5a4a24" stroke-width="0.85"/><circle cx="499.9" cy="506.0" r="3.4" fill="url(#ho)" stroke="#6e4434" stroke-width="0.85"/><circle cx="504.8" cy="506.7" r="3.4" fill="url(#hw)" stroke="#4a4234" stroke-width="0.85"/><circle cx="509.5" cy="505.9" r="3.4" fill="url(#hb)" stroke="#34506c" stroke-width="0.85"/><circle cx="516.7" cy="508.2" r="3.4" fill="url(#hk)" stroke="#6e4438" stroke-width="0.85"/><circle cx="523.6" cy="508.1" r="3.4" fill="url(#hb)" stroke="#34506c" stroke-width="0.85"/><circle cx="529.2" cy="508.1" r="3.4" fill="url(#hk)" stroke="#6e4438" stroke-width="0.85"/><circle cx="534.5" cy="507.3" r="3.4" fill="url(#ho)" stroke="#6e4434" stroke-width="0.85"/><circle cx="540.1" cy="507.0" r="3.4" fill="url(#hy)" stroke="#5a4a24" stroke-width="0.85"/><circle cx="544.4" cy="507.0" r="3.4" fill="url(#hy)" stroke="#5a4a24" stroke-width="0.85"/><circle cx="550.2" cy="508.0" r="3.4" fill="url(#hk)" stroke="#6e4438" stroke-width="0.85"/><circle cx="555.0" cy="505.7" r="3.4" fill="url(#hy)" stroke="#5a4a24" stroke-width="0.85"/><circle cx="560.5" cy="508.0" r="3.4" fill="url(#hw)" stroke="#4a4234" stroke-width="0.85"/><circle cx="566.6" cy="507.4" r="3.4" fill="url(#hb)" stroke="#34506c" stroke-width="0.85"/><circle cx="574.1" cy="507.7" r="3.4" fill="url(#hb)" stroke="#34506c" stroke-width="0.85"/><circle cx="578.5" cy="506.6" r="3.4" fill="url(#hk)" stroke="#6e4438" stroke-width="0.85"/><circle cx="590.9" cy="508.0" r="3.4" fill="url(#hy)" stroke="#5a4a24" stroke-width="0.85"/><circle cx="600.9" cy="507.9" r="3.4" fill="url(#hb)" stroke="#34506c" stroke-width="0.85"/><circle cx="174.6" cy="511.5" r="3.4" fill="url(#hk)" stroke="#6e4438" stroke-width="0.85"/><circle cx="179.7" cy="512.4" r="3.4" fill="url(#hk)" stroke="#6e4438" stroke-width="0.85"/><circle cx="185.5" cy="513.5" r="3.4" fill="url(#ho)" stroke="#6e4434" stroke-width="0.85"/><circle cx="190.5" cy="512.0" r="3.4" fill="url(#hk)" stroke="#6e4438" stroke-width="0.85"/><circle cx="196.0" cy="511.7" r="3.4" fill="url(#hb)" stroke="#34506c" stroke-width="0.85"/><circle cx="203.6" cy="513.3" r="3.4" fill="url(#hy)" stroke="#5a4a24" stroke-width="0.85"/><circle cx="210.6" cy="512.9" r="3.4" fill="url(#hb)" stroke="#34506c" stroke-width="0.85"/><circle cx="217.1" cy="513.2" r="3.4" fill="url(#hw)" stroke="#4a4234" stroke-width="0.85"/><circle cx="223.2" cy="513.3" r="3.4" fill="url(#hk)" stroke="#6e4438" stroke-width="0.85"/><circle cx="231.0" cy="511.7" r="3.4" fill="url(#hk)" stroke="#6e4438" stroke-width="0.85"/><circle cx="236.5" cy="511.6" r="3.4" fill="url(#hy)" stroke="#5a4a24" stroke-width="0.85"/><circle cx="242.0" cy="511.8" r="3.4" fill="url(#hy)" stroke="#5a4a24" stroke-width="0.85"/><circle cx="253.7" cy="511.4" r="3.4" fill="url(#hk)" stroke="#6e4438" stroke-width="0.85"/><circle cx="260.0" cy="511.4" r="3.4" fill="url(#hb)" stroke="#34506c" stroke-width="0.85"/><circle cx="266.9" cy="511.3" r="3.4" fill="url(#hb)" stroke="#34506c" stroke-width="0.85"/><circle cx="272.7" cy="513.3" r="3.4" fill="url(#hy)" stroke="#5a4a24" stroke-width="0.85"/><circle cx="278.6" cy="510.5" r="3.4" fill="url(#hb)" stroke="#34506c" stroke-width="0.85"/><circle cx="282.8" cy="510.7" r="3.4" fill="url(#hk)" stroke="#6e4438" stroke-width="0.85"/><circle cx="289.0" cy="511.4" r="3.4" fill="url(#hy)" stroke="#5a4a24" stroke-width="0.85"/><circle cx="293.9" cy="511.9" r="3.4" fill="url(#hy)" stroke="#5a4a24" stroke-width="0.85"/><circle cx="298.1" cy="512.7" r="3.4" fill="url(#ho)" stroke="#6e4434" stroke-width="0.85"/><circle cx="302.7" cy="513.2" r="3.4" fill="url(#hk)" stroke="#6e4438" stroke-width="0.85"/><circle cx="307.9" cy="513.5" r="3.4" fill="url(#hb)" stroke="#34506c" stroke-width="0.85"/><circle cx="314.4" cy="511.5" r="3.4" fill="url(#hb)" stroke="#34506c" stroke-width="0.85"/><circle cx="320.7" cy="512.1" r="3.4" fill="url(#ho)" stroke="#6e4434" stroke-width="0.85"/><circle cx="330.1" cy="511.7" r="3.4" fill="url(#hy)" stroke="#5a4a24" stroke-width="0.85"/><circle cx="339.5" cy="512.5" r="3.4" fill="url(#hy)" stroke="#5a4a24" stroke-width="0.85"/><circle cx="344.2" cy="512.3" r="3.4" fill="url(#hw)" stroke="#4a4234" stroke-width="0.85"/><circle cx="350.7" cy="512.4" r="3.4" fill="url(#hw)" stroke="#4a4234" stroke-width="0.85"/><circle cx="356.0" cy="510.6" r="3.4" fill="url(#hb)" stroke="#34506c" stroke-width="0.85"/><circle cx="363.0" cy="510.4" r="3.4" fill="url(#hk)" stroke="#6e4438" stroke-width="0.85"/><circle cx="373.3" cy="511.0" r="3.4" fill="url(#hb)" stroke="#34506c" stroke-width="0.85"/><circle cx="378.4" cy="510.8" r="3.4" fill="url(#hb)" stroke="#34506c" stroke-width="0.85"/><circle cx="391.1" cy="512.4" r="3.4" fill="url(#hb)" stroke="#34506c" stroke-width="0.85"/><circle cx="396.9" cy="512.1" r="3.4" fill="url(#hk)" stroke="#6e4438" stroke-width="0.85"/><circle cx="409.6" cy="512.0" r="3.4" fill="url(#hy)" stroke="#5a4a24" stroke-width="0.85"/><circle cx="414.7" cy="512.8" r="3.4" fill="url(#hy)" stroke="#5a4a24" stroke-width="0.85"/><circle cx="421.6" cy="513.2" r="3.4" fill="url(#hk)" stroke="#6e4438" stroke-width="0.85"/><circle cx="428.0" cy="513.1" r="3.4" fill="url(#hb)" stroke="#34506c" stroke-width="0.85"/><circle cx="435.7" cy="512.1" r="3.4" fill="url(#ho)" stroke="#6e4434" stroke-width="0.85"/><circle cx="442.9" cy="513.1" r="3.4" fill="url(#ho)" stroke="#6e4434" stroke-width="0.85"/><circle cx="450.6" cy="513.2" r="3.4" fill="url(#hk)" stroke="#6e4438" stroke-width="0.85"/><circle cx="455.5" cy="510.6" r="3.4" fill="url(#hy)" stroke="#5a4a24" stroke-width="0.85"/><circle cx="460.2" cy="510.7" r="3.4" fill="url(#hy)" stroke="#5a4a24" stroke-width="0.85"/><circle cx="465.7" cy="510.5" r="3.4" fill="url(#hb)" stroke="#34506c" stroke-width="0.85"/><circle cx="470.4" cy="510.5" r="3.4" fill="url(#hb)" stroke="#34506c" stroke-width="0.85"/><circle cx="477.2" cy="512.3" r="3.4" fill="url(#hk)" stroke="#6e4438" stroke-width="0.85"/><circle cx="488.3" cy="513.2" r="3.4" fill="url(#hk)" stroke="#6e4438" stroke-width="0.85"/><circle cx="500.4" cy="510.8" r="3.4" fill="url(#hb)" stroke="#34506c" stroke-width="0.85"/><circle cx="514.9" cy="512.8" r="3.4" fill="url(#hb)" stroke="#34506c" stroke-width="0.85"/><circle cx="520.1" cy="510.7" r="3.4" fill="url(#hk)" stroke="#6e4438" stroke-width="0.85"/><circle cx="526.6" cy="511.5" r="3.4" fill="url(#hk)" stroke="#6e4438" stroke-width="0.85"/><circle cx="530.9" cy="511.3" r="3.4" fill="url(#hb)" stroke="#34506c" stroke-width="0.85"/><circle cx="544.8" cy="511.9" r="3.4" fill="url(#hk)" stroke="#6e4438" stroke-width="0.85"/><circle cx="551.2" cy="511.7" r="3.4" fill="url(#ho)" stroke="#6e4434" stroke-width="0.85"/><circle cx="557.3" cy="511.9" r="3.4" fill="url(#hb)" stroke="#34506c" stroke-width="0.85"/><circle cx="563.5" cy="513.2" r="3.4" fill="url(#hb)" stroke="#34506c" stroke-width="0.85"/><circle cx="569.7" cy="511.8" r="3.4" fill="url(#hw)" stroke="#4a4234" stroke-width="0.85"/><circle cx="574.6" cy="513.5" r="3.4" fill="url(#hb)" stroke="#34506c" stroke-width="0.85"/><circle cx="580.1" cy="512.6" r="3.4" fill="url(#hk)" stroke="#6e4438" stroke-width="0.85"/><circle cx="585.0" cy="511.5" r="3.4" fill="url(#hk)" stroke="#6e4438" stroke-width="0.85"/><circle cx="591.0" cy="510.9" r="3.4" fill="url(#hk)" stroke="#6e4438" stroke-width="0.85"/><circle cx="596.0" cy="512.0" r="3.4" fill="url(#hb)" stroke="#34506c" stroke-width="0.85"/><circle cx="603.6" cy="512.0" r="3.4" fill="url(#hb)" stroke="#34506c" stroke-width="0.85"/><circle cx="170.7" cy="515.8" r="3.4" fill="url(#ho)" stroke="#6e4434" stroke-width="0.85"/><circle cx="190.4" cy="516.8" r="3.4" fill="url(#hb)" stroke="#34506c" stroke-width="0.85"/><circle cx="201.9" cy="516.3" r="3.4" fill="url(#hw)" stroke="#4a4234" stroke-width="0.85"/><circle cx="217.9" cy="518.2" r="3.4" fill="url(#hy)" stroke="#5a4a24" stroke-width="0.85"/><circle cx="238.1" cy="517.3" r="3.4" fill="url(#hb)" stroke="#34506c" stroke-width="0.85"/><circle cx="256.6" cy="516.5" r="3.4" fill="url(#hk)" stroke="#6e4438" stroke-width="0.85"/><circle cx="288.3" cy="516.5" r="3.4" fill="url(#ho)" stroke="#6e4434" stroke-width="0.85"/><circle cx="303.7" cy="517.2" r="3.4" fill="url(#hy)" stroke="#5a4a24" stroke-width="0.85"/><circle cx="318.1" cy="517.6" r="3.4" fill="url(#hw)" stroke="#4a4234" stroke-width="0.85"/><circle cx="331.2" cy="517.6" r="3.4" fill="url(#hk)" stroke="#6e4438" stroke-width="0.85"/><circle cx="348.3" cy="518.4" r="3.4" fill="url(#hb)" stroke="#34506c" stroke-width="0.85"/><circle cx="362.6" cy="516.0" r="3.4" fill="url(#hk)" stroke="#6e4438" stroke-width="0.85"/><circle cx="383.0" cy="518.4" r="3.4" fill="url(#hb)" stroke="#34506c" stroke-width="0.85"/><circle cx="395.8" cy="516.1" r="3.4" fill="url(#hy)" stroke="#5a4a24" stroke-width="0.85"/><circle cx="416.4" cy="517.7" r="3.4" fill="url(#ho)" stroke="#6e4434" stroke-width="0.85"/><circle cx="430.3" cy="518.2" r="3.4" fill="url(#hk)" stroke="#6e4438" stroke-width="0.85"/><circle cx="443.4" cy="515.6" r="3.4" fill="url(#ho)" stroke="#6e4434" stroke-width="0.85"/><circle cx="462.8" cy="516.2" r="3.4" fill="url(#hb)" stroke="#34506c" stroke-width="0.85"/><circle cx="476.9" cy="516.3" r="3.4" fill="url(#hb)" stroke="#34506c" stroke-width="0.85"/><circle cx="492.0" cy="518.2" r="3.4" fill="url(#ho)" stroke="#6e4434" stroke-width="0.85"/><circle cx="509.9" cy="517.4" r="3.4" fill="url(#hk)" stroke="#6e4438" stroke-width="0.85"/><circle cx="523.3" cy="518.1" r="3.4" fill="url(#hk)" stroke="#6e4438" stroke-width="0.85"/><circle cx="540.7" cy="516.2" r="3.4" fill="url(#hy)" stroke="#5a4a24" stroke-width="0.85"/><circle cx="558.0" cy="516.4" r="3.4" fill="url(#hb)" stroke="#34506c" stroke-width="0.85"/><circle cx="589.5" cy="517.6" r="3.4" fill="url(#hy)" stroke="#5a4a24" stroke-width="0.85"/><circle cx="603.1" cy="516.9" r="3.4" fill="url(#hw)" stroke="#4a4234" stroke-width="0.85"/></g><line x1="147" y1="554.5" x2="629.5" y2="554.5" stroke="#4a4a4a" stroke-width="1.4"/><line x1="166.2" y1="700.6" x2="165.8" y2="735.6" stroke="#505050" stroke-width="0.85"/><line x1="172.2" y1="700.6" x2="172.6" y2="736.6" stroke="#505050" stroke-width="0.85"/><line x1="186.0" y1="700.6" x2="185.6" y2="735.6" stroke="#505050" stroke-width="0.85"/><line x1="192.0" y1="700.6" x2="192.4" y2="736.6" stroke="#505050" stroke-width="0.85"/><line x1="208.1" y1="700.6" x2="207.7" y2="735.6" stroke="#505050" stroke-width="0.85"/><line x1="214.1" y1="700.6" x2="214.5" y2="736.6" stroke="#505050" stroke-width="0.85"/><line x1="227.1" y1="700.6" x2="226.7" y2="735.6" stroke="#505050" stroke-width="0.85"/><line x1="233.1" y1="700.6" x2="233.5" y2="736.6" stroke="#505050" stroke-width="0.85"/><line x1="246.1" y1="700.6" x2="245.7" y2="735.6" stroke="#505050" stroke-width="0.85"/><line x1="252.1" y1="700.6" x2="252.5" y2="736.6" stroke="#505050" stroke-width="0.85"/><line x1="261.1" y1="700.6" x2="260.7" y2="735.6" stroke="#505050" stroke-width="0.85"/><line x1="267.1" y1="700.6" x2="267.5" y2="736.6" stroke="#505050" stroke-width="0.85"/><line x1="274.7" y1="700.6" x2="274.3" y2="735.6" stroke="#505050" stroke-width="0.85"/><line x1="280.7" y1="700.6" x2="281.1" y2="736.6" stroke="#505050" stroke-width="0.85"/><line x1="290.3" y1="700.6" x2="289.9" y2="735.6" stroke="#505050" stroke-width="0.85"/><line x1="296.3" y1="700.6" x2="296.7" y2="736.6" stroke="#505050" stroke-width="0.85"/><line x1="314.9" y1="700.6" x2="314.5" y2="735.6" stroke="#505050" stroke-width="0.85"/><line x1="320.9" y1="700.6" x2="321.3" y2="736.6" stroke="#505050" stroke-width="0.85"/><line x1="334.2" y1="700.6" x2="333.8" y2="735.6" stroke="#505050" stroke-width="0.85"/><line x1="340.2" y1="700.6" x2="340.6" y2="736.6" stroke="#505050" stroke-width="0.85"/><line x1="353.2" y1="700.6" x2="352.8" y2="735.6" stroke="#505050" stroke-width="0.85"/><line x1="359.2" y1="700.6" x2="359.6" y2="736.6" stroke="#505050" stroke-width="0.85"/><line x1="368.8" y1="700.6" x2="368.4" y2="735.6" stroke="#505050" stroke-width="0.85"/><line x1="374.8" y1="700.6" x2="375.2" y2="736.6" stroke="#505050" stroke-width="0.85"/><path d="M165.4,762.6 Q167.4,761.2 165.4,759.8 Q163.4,758.4 165.4,757.0 Q167.4,755.6 165.4,754.2 Q163.4,752.8 165.4,751.4 Q167.4,750.0 165.4,748.6 Q163.4,747.2 165.4,745.8 Q167.4,744.4 165.4,743.0 Q163.4,741.6 165.4,740.2 Q167.4,738.8 165.4,737.4 Q163.4,736.0 165.4,734.6" fill="none" stroke="#333" stroke-width="0.8"/><path d="M170.8,762.6 Q172.8,761.2 170.8,759.7 Q168.8,758.3 170.8,756.8 Q172.8,755.4 170.8,753.9 Q168.8,752.5 170.8,751.0 Q172.8,749.6 170.8,748.2 Q168.8,746.7 170.8,745.3 Q172.8,743.8 170.8,742.4 Q168.8,740.9 170.8,739.5 Q172.8,738.0 170.8,736.6" fill="none" stroke="#333" stroke-width="0.8"/><path d="M181.0,762.6 Q183.0,761.2 181.0,759.8 Q179.0,758.4 181.0,757.0 Q183.0,755.6 181.0,754.2 Q179.0,752.8 181.0,751.4 Q183.0,750.0 181.0,748.6 Q179.0,747.2 181.0,745.8 Q183.0,744.4 181.0,743.0 Q179.0,741.6 181.0,740.2 Q183.0,738.8 181.0,737.4 Q179.0,736.0 181.0,734.6" fill="none" stroke="#333" stroke-width="0.8"/><path d="M186.4,762.6 Q188.4,761.2 186.4,759.7 Q184.4,758.3 186.4,756.8 Q188.4,755.4 186.4,753.9 Q184.4,752.5 186.4,751.0 Q188.4,749.6 186.4,748.2 Q184.4,746.7 186.4,745.3 Q188.4,743.8 186.4,742.4 Q184.4,740.9 186.4,739.5 Q188.4,738.0 186.4,736.6" fill="none" stroke="#333" stroke-width="0.8"/><path d="M193.7,762.6 Q195.7,761.2 193.7,759.8 Q191.7,758.4 193.7,757.0 Q195.7,755.6 193.7,754.2 Q191.7,752.8 193.7,751.4 Q195.7,750.0 193.7,748.6 Q191.7,747.2 193.7,745.8 Q195.7,744.4 193.7,743.0 Q191.7,741.6 193.7,740.2 Q195.7,738.8 193.7,737.4 Q191.7,736.0 193.7,734.6" fill="none" stroke="#333" stroke-width="0.8"/><path d="M199.1,762.6 Q201.1,761.2 199.1,759.7 Q197.1,758.3 199.1,756.8 Q201.1,755.4 199.1,753.9 Q197.1,752.5 199.1,751.0 Q201.1,749.6 199.1,748.2 Q197.1,746.7 199.1,745.3 Q201.1,743.8 199.1,742.4 Q197.1,740.9 199.1,739.5 Q201.1,738.0 199.1,736.6" fill="none" stroke="#333" stroke-width="0.8"/><path d="M206.5,762.6 Q208.5,761.2 206.5,759.8 Q204.5,758.4 206.5,757.0 Q208.5,755.6 206.5,754.2 Q204.5,752.8 206.5,751.4 Q208.5,750.0 206.5,748.6 Q204.5,747.2 206.5,745.8 Q208.5,744.4 206.5,743.0 Q204.5,741.6 206.5,740.2 Q208.5,738.8 206.5,737.4 Q204.5,736.0 206.5,734.6" fill="none" stroke="#333" stroke-width="0.8"/><path d="M211.9,762.6 Q213.9,761.2 211.9,759.7 Q209.9,758.3 211.9,756.8 Q213.9,755.4 211.9,753.9 Q209.9,752.5 211.9,751.0 Q213.9,749.6 211.9,748.2 Q209.9,746.7 211.9,745.3 Q213.9,743.8 211.9,742.4 Q209.9,740.9 211.9,739.5 Q213.9,738.0 211.9,736.6" fill="none" stroke="#333" stroke-width="0.8"/><path d="M224.9,762.6 Q226.9,761.2 224.9,759.8 Q222.9,758.4 224.9,757.0 Q226.9,755.6 224.9,754.2 Q222.9,752.8 224.9,751.4 Q226.9,750.0 224.9,748.6 Q222.9,747.2 224.9,745.8 Q226.9,744.4 224.9,743.0 Q222.9,741.6 224.9,740.2 Q226.9,738.8 224.9,737.4 Q222.9,736.0 224.9,734.6" fill="none" stroke="#333" stroke-width="0.8"/><path d="M230.3,762.6 Q232.3,761.2 230.3,759.7 Q228.3,758.3 230.3,756.8 Q232.3,755.4 230.3,753.9 Q228.3,752.5 230.3,751.0 Q232.3,749.6 230.3,748.2 Q228.3,746.7 230.3,745.3 Q232.3,743.8 230.3,742.4 Q228.3,740.9 230.3,739.5 Q232.3,738.0 230.3,736.6" fill="none" stroke="#333" stroke-width="0.8"/><path d="M238.2,762.6 Q240.2,761.2 238.2,759.8 Q236.2,758.4 238.2,757.0 Q240.2,755.6 238.2,754.2 Q236.2,752.8 238.2,751.4 Q240.2,750.0 238.2,748.6 Q236.2,747.2 238.2,745.8 Q240.2,744.4 238.2,743.0 Q236.2,741.6 238.2,740.2 Q240.2,738.8 238.2,737.4 Q236.2,736.0 238.2,734.6" fill="none" stroke="#333" stroke-width="0.8"/><path d="M243.6,762.6 Q245.6,761.2 243.6,759.7 Q241.6,758.3 243.6,756.8 Q245.6,755.4 243.6,753.9 Q241.6,752.5 243.6,751.0 Q245.6,749.6 243.6,748.2 Q241.6,746.7 243.6,745.3 Q245.6,743.8 243.6,742.4 Q241.6,740.9 243.6,739.5 Q245.6,738.0 243.6,736.6" fill="none" stroke="#333" stroke-width="0.8"/><path d="M252.6,762.6 Q254.6,761.2 252.6,759.8 Q250.6,758.4 252.6,757.0 Q254.6,755.6 252.6,754.2 Q250.6,752.8 252.6,751.4 Q254.6,750.0 252.6,748.6 Q250.6,747.2 252.6,745.8 Q254.6,744.4 252.6,743.0 Q250.6,741.6 252.6,740.2 Q254.6,738.8 252.6,737.4 Q250.6,736.0 252.6,734.6" fill="none" stroke="#333" stroke-width="0.8"/><path d="M258.0,762.6 Q260.0,761.2 258.0,759.7 Q256.0,758.3 258.0,756.8 Q260.0,755.4 258.0,753.9 Q256.0,752.5 258.0,751.0 Q260.0,749.6 258.0,748.2 Q256.0,746.7 258.0,745.3 Q260.0,743.8 258.0,742.4 Q256.0,740.9 258.0,739.5 Q260.0,738.0 258.0,736.6" fill="none" stroke="#333" stroke-width="0.8"/><path d="M267.4,762.6 Q269.4,761.2 267.4,759.8 Q265.4,758.4 267.4,757.0 Q269.4,755.6 267.4,754.2 Q265.4,752.8 267.4,751.4 Q269.4,750.0 267.4,748.6 Q265.4,747.2 267.4,745.8 Q269.4,744.4 267.4,743.0 Q265.4,741.6 267.4,740.2 Q269.4,738.8 267.4,737.4 Q265.4,736.0 267.4,734.6" fill="none" stroke="#333" stroke-width="0.8"/><path d="M272.8,762.6 Q274.8,761.2 272.8,759.7 Q270.8,758.3 272.8,756.8 Q274.8,755.4 272.8,753.9 Q270.8,752.5 272.8,751.0 Q274.8,749.6 272.8,748.2 Q270.8,746.7 272.8,745.3 Q274.8,743.8 272.8,742.4 Q270.8,740.9 272.8,739.5 Q274.8,738.0 272.8,736.6" fill="none" stroke="#333" stroke-width="0.8"/><path d="M282.9,762.6 Q284.9,761.2 282.9,759.8 Q280.9,758.4 282.9,757.0 Q284.9,755.6 282.9,754.2 Q280.9,752.8 282.9,751.4 Q284.9,750.0 282.9,748.6 Q280.9,747.2 282.9,745.8 Q284.9,744.4 282.9,743.0 Q280.9,741.6 282.9,740.2 Q284.9,738.8 282.9,737.4 Q280.9,736.0 282.9,734.6" fill="none" stroke="#333" stroke-width="0.8"/><path d="M288.3,762.6 Q290.3,761.2 288.3,759.7 Q286.3,758.3 288.3,756.8 Q290.3,755.4 288.3,753.9 Q286.3,752.5 288.3,751.0 Q290.3,749.6 288.3,748.2 Q286.3,746.7 288.3,745.3 Q290.3,743.8 288.3,742.4 Q286.3,740.9 288.3,739.5 Q290.3,738.0 288.3,736.6" fill="none" stroke="#333" stroke-width="0.8"/><path d="M297.1,762.6 Q299.1,761.2 297.1,759.8 Q295.1,758.4 297.1,757.0 Q299.1,755.6 297.1,754.2 Q295.1,752.8 297.1,751.4 Q299.1,750.0 297.1,748.6 Q295.1,747.2 297.1,745.8 Q299.1,744.4 297.1,743.0 Q295.1,741.6 297.1,740.2 Q299.1,738.8 297.1,737.4 Q295.1,736.0 297.1,734.6" fill="none" stroke="#333" stroke-width="0.8"/><path d="M302.5,762.6 Q304.5,761.2 302.5,759.7 Q300.5,758.3 302.5,756.8 Q304.5,755.4 302.5,753.9 Q300.5,752.5 302.5,751.0 Q304.5,749.6 302.5,748.2 Q300.5,746.7 302.5,745.3 Q304.5,743.8 302.5,742.4 Q300.5,740.9 302.5,739.5 Q304.5,738.0 302.5,736.6" fill="none" stroke="#333" stroke-width="0.8"/><path d="M310.4,762.6 Q312.4,761.2 310.4,759.8 Q308.4,758.4 310.4,757.0 Q312.4,755.6 310.4,754.2 Q308.4,752.8 310.4,751.4 Q312.4,750.0 310.4,748.6 Q308.4,747.2 310.4,745.8 Q312.4,744.4 310.4,743.0 Q308.4,741.6 310.4,740.2 Q312.4,738.8 310.4,737.4 Q308.4,736.0 310.4,734.6" fill="none" stroke="#333" stroke-width="0.8"/><path d="M315.8,762.6 Q317.8,761.2 315.8,759.7 Q313.8,758.3 315.8,756.8 Q317.8,755.4 315.8,753.9 Q313.8,752.5 315.8,751.0 Q317.8,749.6 315.8,748.2 Q313.8,746.7 315.8,745.3 Q317.8,743.8 315.8,742.4 Q313.8,740.9 315.8,739.5 Q317.8,738.0 315.8,736.6" fill="none" stroke="#333" stroke-width="0.8"/><path d="M327.4,762.6 Q329.4,761.2 327.4,759.8 Q325.4,758.4 327.4,757.0 Q329.4,755.6 327.4,754.2 Q325.4,752.8 327.4,751.4 Q329.4,750.0 327.4,748.6 Q325.4,747.2 327.4,745.8 Q329.4,744.4 327.4,743.0 Q325.4,741.6 327.4,740.2 Q329.4,738.8 327.4,737.4 Q325.4,736.0 327.4,734.6" fill="none" stroke="#333" stroke-width="0.8"/><path d="M332.8,762.6 Q334.8,761.2 332.8,759.7 Q330.8,758.3 332.8,756.8 Q334.8,755.4 332.8,753.9 Q330.8,752.5 332.8,751.0 Q334.8,749.6 332.8,748.2 Q330.8,746.7 332.8,745.3 Q334.8,743.8 332.8,742.4 Q330.8,740.9 332.8,739.5 Q334.8,738.0 332.8,736.6" fill="none" stroke="#333" stroke-width="0.8"/><path d="M346.7,762.6 Q348.7,761.2 346.7,759.8 Q344.7,758.4 346.7,757.0 Q348.7,755.6 346.7,754.2 Q344.7,752.8 346.7,751.4 Q348.7,750.0 346.7,748.6 Q344.7,747.2 346.7,745.8 Q348.7,744.4 346.7,743.0 Q344.7,741.6 346.7,740.2 Q348.7,738.8 346.7,737.4 Q344.7,736.0 346.7,734.6" fill="none" stroke="#333" stroke-width="0.8"/><path d="M352.1,762.6 Q354.1,761.2 352.1,759.7 Q350.1,758.3 352.1,756.8 Q354.1,755.4 352.1,753.9 Q350.1,752.5 352.1,751.0 Q354.1,749.6 352.1,748.2 Q350.1,746.7 352.1,745.3 Q354.1,743.8 352.1,742.4 Q350.1,740.9 352.1,739.5 Q354.1,738.0 352.1,736.6" fill="none" stroke="#333" stroke-width="0.8"/><path d="M360.3,762.6 Q362.3,761.2 360.3,759.8 Q358.3,758.4 360.3,757.0 Q362.3,755.6 360.3,754.2 Q358.3,752.8 360.3,751.4 Q362.3,750.0 360.3,748.6 Q358.3,747.2 360.3,745.8 Q362.3,744.4 360.3,743.0 Q358.3,741.6 360.3,740.2 Q362.3,738.8 360.3,737.4 Q358.3,736.0 360.3,734.6" fill="none" stroke="#333" stroke-width="0.8"/><path d="M365.7,762.6 Q367.7,761.2 365.7,759.7 Q363.7,758.3 365.7,756.8 Q367.7,755.4 365.7,753.9 Q363.7,752.5 365.7,751.0 Q367.7,749.6 365.7,748.2 Q363.7,746.7 365.7,745.3 Q367.7,743.8 365.7,742.4 Q363.7,740.9 365.7,739.5 Q367.7,738.0 365.7,736.6" fill="none" stroke="#333" stroke-width="0.8"/><path d="M374.4,762.6 Q376.4,761.2 374.4,759.8 Q372.4,758.4 374.4,757.0 Q376.4,755.6 374.4,754.2 Q372.4,752.8 374.4,751.4 Q376.4,750.0 374.4,748.6 Q372.4,747.2 374.4,745.8 Q376.4,744.4 374.4,743.0 Q372.4,741.6 374.4,740.2 Q376.4,738.8 374.4,737.4 Q372.4,736.0 374.4,734.6" fill="none" stroke="#333" stroke-width="0.8"/><path d="M379.8,762.6 Q381.8,761.2 379.8,759.7 Q377.8,758.3 379.8,756.8 Q381.8,755.4 379.8,753.9 Q377.8,752.5 379.8,751.0 Q381.8,749.6 379.8,748.2 Q377.8,746.7 379.8,745.3 Q381.8,743.8 379.8,742.4 Q377.8,740.9 379.8,739.5 Q381.8,738.0 379.8,736.6" fill="none" stroke="#333" stroke-width="0.8"/><circle cx="169.4" cy="694.6" r="6.4" fill="#fff" stroke="#e5553b" stroke-width="1.5"/><circle cx="189.2" cy="694.6" r="6.4" fill="#fff" stroke="#e5553b" stroke-width="1.5"/><circle cx="211.3" cy="694.6" r="6.4" fill="#fff" stroke="#f0a13a" stroke-width="1.5"/><circle cx="230.3" cy="694.6" r="6.4" fill="#fff" stroke="#e5553b" stroke-width="1.5"/><circle cx="249.3" cy="694.6" r="6.4" fill="#fff" stroke="#e5553b" stroke-width="1.5"/><circle cx="264.3" cy="694.6" r="6.4" fill="#fff" stroke="#e5553b" stroke-width="1.5"/><circle cx="277.9" cy="694.6" r="6.4" fill="#fff" stroke="#e5553b" stroke-width="1.5"/><circle cx="293.5" cy="694.6" r="6.4" fill="#fff" stroke="#e5553b" stroke-width="1.5"/><circle cx="318.1" cy="694.6" r="6.4" fill="#fff" stroke="#f0a13a" stroke-width="1.5"/><circle cx="337.4" cy="694.6" r="6.4" fill="#fff" stroke="#e5553b" stroke-width="1.5"/><circle cx="356.4" cy="694.6" r="6.4" fill="#fff" stroke="#e5553b" stroke-width="1.5"/><circle cx="372.0" cy="694.6" r="6.4" fill="#fff" stroke="#e5553b" stroke-width="1.5"/><circle cx="176.5" cy="698.6" r="1.6" fill="#1e6e2a"/><path d="M179.0,715.3 L180.4,718.3 L177.9,721.3 L179.9,724.3" fill="none" stroke="#27873a" stroke-width="1.1"/><circle cx="175.8" cy="702.4" r="2.6" fill="#c8f2c8" stroke="#27873a" stroke-width="0.95"/><circle cx="178.4" cy="706.7" r="2.6" fill="#c8f2c8" stroke="#27873a" stroke-width="0.95"/><circle cx="176.4" cy="711.0" r="2.6" fill="#c8f2c8" stroke="#27873a" stroke-width="0.95"/><circle cx="179.0" cy="715.3" r="2.6" fill="#c8f2c8" stroke="#27873a" stroke-width="0.95"/><circle cx="196.0" cy="698.6" r="1.6" fill="#1e6e2a"/><path d="M198.5,715.3 L199.9,718.3 L197.4,721.3 L199.4,724.3" fill="none" stroke="#27873a" stroke-width="1.1"/><circle cx="195.3" cy="702.4" r="2.6" fill="#c8f2c8" stroke="#27873a" stroke-width="0.95"/><circle cx="197.9" cy="706.7" r="2.6" fill="#c8f2c8" stroke="#27873a" stroke-width="0.95"/><circle cx="195.9" cy="711.0" r="2.6" fill="#c8f2c8" stroke="#27873a" stroke-width="0.95"/><circle cx="198.5" cy="715.3" r="2.6" fill="#c8f2c8" stroke="#27873a" stroke-width="0.95"/><circle cx="201.0" cy="698.6" r="1.6" fill="#1e6e2a"/><path d="M203.5,715.3 L204.9,718.3 L202.4,721.3 L204.4,724.3" fill="none" stroke="#27873a" stroke-width="1.1"/><circle cx="200.3" cy="702.4" r="2.6" fill="#c8f2c8" stroke="#27873a" stroke-width="0.95"/><circle cx="202.9" cy="706.7" r="2.6" fill="#c8f2c8" stroke="#27873a" stroke-width="0.95"/><circle cx="200.9" cy="711.0" r="2.6" fill="#c8f2c8" stroke="#27873a" stroke-width="0.95"/><circle cx="203.5" cy="715.3" r="2.6" fill="#c8f2c8" stroke="#27873a" stroke-width="0.95"/><circle cx="219.0" cy="698.6" r="1.6" fill="#1e6e2a"/><path d="M221.5,715.3 L222.9,718.3 L220.4,721.3 L222.4,724.3" fill="none" stroke="#27873a" stroke-width="1.1"/><circle cx="218.3" cy="702.4" r="2.6" fill="#c8f2c8" stroke="#27873a" stroke-width="0.95"/><circle cx="220.9" cy="706.7" r="2.6" fill="#c8f2c8" stroke="#27873a" stroke-width="0.95"/><circle cx="218.9" cy="711.0" r="2.6" fill="#c8f2c8" stroke="#27873a" stroke-width="0.95"/><circle cx="221.5" cy="715.3" r="2.6" fill="#c8f2c8" stroke="#27873a" stroke-width="0.95"/><circle cx="240.0" cy="698.6" r="1.6" fill="#1e6e2a"/><path d="M242.5,715.3 L243.9,718.3 L241.4,721.3 L243.4,724.3" fill="none" stroke="#27873a" stroke-width="1.1"/><circle cx="239.3" cy="702.4" r="2.6" fill="#c8f2c8" stroke="#27873a" stroke-width="0.95"/><circle cx="241.9" cy="706.7" r="2.6" fill="#c8f2c8" stroke="#27873a" stroke-width="0.95"/><circle cx="239.9" cy="711.0" r="2.6" fill="#c8f2c8" stroke="#27873a" stroke-width="0.95"/><circle cx="242.5" cy="715.3" r="2.6" fill="#c8f2c8" stroke="#27873a" stroke-width="0.95"/><circle cx="257.0" cy="698.6" r="1.6" fill="#1e6e2a"/><path d="M259.5,715.3 L260.9,718.3 L258.4,721.3 L260.4,724.3" fill="none" stroke="#27873a" stroke-width="1.1"/><circle cx="256.4" cy="702.4" r="2.6" fill="#c8f2c8" stroke="#27873a" stroke-width="0.95"/><circle cx="258.9" cy="706.7" r="2.6" fill="#c8f2c8" stroke="#27873a" stroke-width="0.95"/><circle cx="257.0" cy="711.0" r="2.6" fill="#c8f2c8" stroke="#27873a" stroke-width="0.95"/><circle cx="259.5" cy="715.3" r="2.6" fill="#c8f2c8" stroke="#27873a" stroke-width="0.95"/><circle cx="274.0" cy="698.6" r="1.6" fill="#1e6e2a"/><path d="M276.5,715.3 L277.9,718.3 L275.4,721.3 L277.4,724.3" fill="none" stroke="#27873a" stroke-width="1.1"/><circle cx="273.4" cy="702.4" r="2.6" fill="#c8f2c8" stroke="#27873a" stroke-width="0.95"/><circle cx="275.9" cy="706.7" r="2.6" fill="#c8f2c8" stroke="#27873a" stroke-width="0.95"/><circle cx="274.0" cy="711.0" r="2.6" fill="#c8f2c8" stroke="#27873a" stroke-width="0.95"/><circle cx="276.5" cy="715.3" r="2.6" fill="#c8f2c8" stroke="#27873a" stroke-width="0.95"/><circle cx="286.0" cy="698.6" r="1.6" fill="#1e6e2a"/><path d="M288.5,715.3 L289.9,718.3 L287.4,721.3 L289.4,724.3" fill="none" stroke="#27873a" stroke-width="1.1"/><circle cx="285.4" cy="702.4" r="2.6" fill="#c8f2c8" stroke="#27873a" stroke-width="0.95"/><circle cx="287.9" cy="706.7" r="2.6" fill="#c8f2c8" stroke="#27873a" stroke-width="0.95"/><circle cx="286.0" cy="711.0" r="2.6" fill="#c8f2c8" stroke="#27873a" stroke-width="0.95"/><circle cx="288.5" cy="715.3" r="2.6" fill="#c8f2c8" stroke="#27873a" stroke-width="0.95"/><circle cx="300.0" cy="698.6" r="1.6" fill="#1e6e2a"/><path d="M302.5,715.3 L303.9,718.3 L301.4,721.3 L303.4,724.3" fill="none" stroke="#27873a" stroke-width="1.1"/><circle cx="299.4" cy="702.4" r="2.6" fill="#c8f2c8" stroke="#27873a" stroke-width="0.95"/><circle cx="301.9" cy="706.7" r="2.6" fill="#c8f2c8" stroke="#27873a" stroke-width="0.95"/><circle cx="300.0" cy="711.0" r="2.6" fill="#c8f2c8" stroke="#27873a" stroke-width="0.95"/><circle cx="302.5" cy="715.3" r="2.6" fill="#c8f2c8" stroke="#27873a" stroke-width="0.95"/><circle cx="307.0" cy="698.6" r="1.6" fill="#1e6e2a"/><path d="M309.5,715.3 L310.9,718.3 L308.4,721.3 L310.4,724.3" fill="none" stroke="#27873a" stroke-width="1.1"/><circle cx="306.4" cy="702.4" r="2.6" fill="#c8f2c8" stroke="#27873a" stroke-width="0.95"/><circle cx="308.9" cy="706.7" r="2.6" fill="#c8f2c8" stroke="#27873a" stroke-width="0.95"/><circle cx="307.0" cy="711.0" r="2.6" fill="#c8f2c8" stroke="#27873a" stroke-width="0.95"/><circle cx="309.5" cy="715.3" r="2.6" fill="#c8f2c8" stroke="#27873a" stroke-width="0.95"/><circle cx="325.0" cy="698.6" r="1.6" fill="#1e6e2a"/><path d="M327.5,715.3 L328.9,718.3 L326.4,721.3 L328.4,724.3" fill="none" stroke="#27873a" stroke-width="1.1"/><circle cx="324.4" cy="702.4" r="2.6" fill="#c8f2c8" stroke="#27873a" stroke-width="0.95"/><circle cx="326.9" cy="706.7" r="2.6" fill="#c8f2c8" stroke="#27873a" stroke-width="0.95"/><circle cx="325.0" cy="711.0" r="2.6" fill="#c8f2c8" stroke="#27873a" stroke-width="0.95"/><circle cx="327.5" cy="715.3" r="2.6" fill="#c8f2c8" stroke="#27873a" stroke-width="0.95"/><circle cx="346.0" cy="698.6" r="1.6" fill="#1e6e2a"/><path d="M348.5,715.3 L349.9,718.3 L347.4,721.3 L349.4,724.3" fill="none" stroke="#27873a" stroke-width="1.1"/><circle cx="345.4" cy="702.4" r="2.6" fill="#c8f2c8" stroke="#27873a" stroke-width="0.95"/><circle cx="347.9" cy="706.7" r="2.6" fill="#c8f2c8" stroke="#27873a" stroke-width="0.95"/><circle cx="346.0" cy="711.0" r="2.6" fill="#c8f2c8" stroke="#27873a" stroke-width="0.95"/><circle cx="348.5" cy="715.3" r="2.6" fill="#c8f2c8" stroke="#27873a" stroke-width="0.95"/><circle cx="363.0" cy="698.6" r="1.6" fill="#1e6e2a"/><path d="M365.5,715.3 L366.9,718.3 L364.4,721.3 L366.4,724.3" fill="none" stroke="#27873a" stroke-width="1.1"/><circle cx="362.4" cy="702.4" r="2.6" fill="#c8f2c8" stroke="#27873a" stroke-width="0.95"/><circle cx="364.9" cy="706.7" r="2.6" fill="#c8f2c8" stroke="#27873a" stroke-width="0.95"/><circle cx="363.0" cy="711.0" r="2.6" fill="#c8f2c8" stroke="#27873a" stroke-width="0.95"/><circle cx="365.5" cy="715.3" r="2.6" fill="#c8f2c8" stroke="#27873a" stroke-width="0.95"/><circle cx="381.0" cy="698.6" r="1.6" fill="#1e6e2a"/><path d="M383.5,715.3 L384.9,718.3 L382.4,721.3 L384.4,724.3" fill="none" stroke="#27873a" stroke-width="1.1"/><circle cx="380.4" cy="702.4" r="2.6" fill="#c8f2c8" stroke="#27873a" stroke-width="0.95"/><circle cx="382.9" cy="706.7" r="2.6" fill="#c8f2c8" stroke="#27873a" stroke-width="0.95"/><circle cx="381.0" cy="711.0" r="2.6" fill="#c8f2c8" stroke="#27873a" stroke-width="0.95"/><circle cx="383.5" cy="715.3" r="2.6" fill="#c8f2c8" stroke="#27873a" stroke-width="0.95"/><circle cx="207.0" cy="762.6" r="1.6" fill="#1e6e2a"/><path d="M207.7,745.9 L209.1,742.9 L206.6,739.9 L208.6,736.9" fill="none" stroke="#27873a" stroke-width="1.1"/><circle cx="206.3" cy="758.8" r="2.6" fill="#c8f2c8" stroke="#27873a" stroke-width="0.95"/><circle cx="208.3" cy="754.5" r="2.6" fill="#c8f2c8" stroke="#27873a" stroke-width="0.95"/><circle cx="205.8" cy="750.2" r="2.6" fill="#c8f2c8" stroke="#27873a" stroke-width="0.95"/><circle cx="207.7" cy="745.9" r="2.6" fill="#c8f2c8" stroke="#27873a" stroke-width="0.95"/><circle cx="266.0" cy="762.6" r="1.6" fill="#1e6e2a"/><path d="M266.7,745.9 L268.1,742.9 L265.6,739.9 L267.6,736.9" fill="none" stroke="#27873a" stroke-width="1.1"/><circle cx="265.4" cy="758.8" r="2.6" fill="#c8f2c8" stroke="#27873a" stroke-width="0.95"/><circle cx="267.3" cy="754.5" r="2.6" fill="#c8f2c8" stroke="#27873a" stroke-width="0.95"/><circle cx="264.8" cy="750.2" r="2.6" fill="#c8f2c8" stroke="#27873a" stroke-width="0.95"/><circle cx="266.7" cy="745.9" r="2.6" fill="#c8f2c8" stroke="#27873a" stroke-width="0.95"/><circle cx="299.0" cy="762.6" r="1.6" fill="#1e6e2a"/><path d="M299.7,745.9 L301.1,742.9 L298.6,739.9 L300.6,736.9" fill="none" stroke="#27873a" stroke-width="1.1"/><circle cx="298.4" cy="758.8" r="2.6" fill="#c8f2c8" stroke="#27873a" stroke-width="0.95"/><circle cx="300.3" cy="754.5" r="2.6" fill="#c8f2c8" stroke="#27873a" stroke-width="0.95"/><circle cx="297.8" cy="750.2" r="2.6" fill="#c8f2c8" stroke="#27873a" stroke-width="0.95"/><circle cx="299.7" cy="745.9" r="2.6" fill="#c8f2c8" stroke="#27873a" stroke-width="0.95"/><circle cx="375.0" cy="762.6" r="1.6" fill="#1e6e2a"/><path d="M375.7,745.9 L377.1,742.9 L374.6,739.9 L376.6,736.9" fill="none" stroke="#27873a" stroke-width="1.1"/><circle cx="374.4" cy="758.8" r="2.6" fill="#c8f2c8" stroke="#27873a" stroke-width="0.95"/><circle cx="376.3" cy="754.5" r="2.6" fill="#c8f2c8" stroke="#27873a" stroke-width="0.95"/><circle cx="373.8" cy="750.2" r="2.6" fill="#c8f2c8" stroke="#27873a" stroke-width="0.95"/><circle cx="375.7" cy="745.9" r="2.6" fill="#c8f2c8" stroke="#27873a" stroke-width="0.95"/><circle cx="168.0" cy="768.6" r="6.6" fill="#fff" stroke="#3d70c0" stroke-width="1.5"/><circle cx="183.6" cy="768.6" r="6.6" fill="#fff" stroke="#3d70c0" stroke-width="1.5"/><circle cx="196.3" cy="768.6" r="6.6" fill="#fff" stroke="#3d70c0" stroke-width="1.5"/><circle cx="209.1" cy="768.6" r="6.6" fill="#fff" stroke="#3d70c0" stroke-width="1.5"/><circle cx="227.5" cy="768.6" r="6.6" fill="#fff" stroke="#3d70c0" stroke-width="1.5"/><circle cx="240.8" cy="768.6" r="6.6" fill="#fff" stroke="#3d70c0" stroke-width="1.5"/><circle cx="255.2" cy="768.6" r="6.6" fill="#fff" stroke="#3d70c0" stroke-width="1.5"/><circle cx="270.0" cy="768.6" r="6.6" fill="#fff" stroke="#3d70c0" stroke-width="1.5"/><circle cx="285.5" cy="768.6" r="6.6" fill="#fff" stroke="#3d70c0" stroke-width="1.5"/><circle cx="299.7" cy="768.6" r="6.6" fill="#fff" stroke="#3d70c0" stroke-width="1.5"/><circle cx="313.0" cy="768.6" r="6.6" fill="#fff" stroke="#3d70c0" stroke-width="1.5"/><circle cx="330.0" cy="768.6" r="6.6" fill="#fff" stroke="#3d70c0" stroke-width="1.5"/><circle cx="349.3" cy="768.6" r="6.6" fill="#fff" stroke="#3d70c0" stroke-width="1.5"/><circle cx="362.9" cy="768.6" r="6.6" fill="#fff" stroke="#3d70c0" stroke-width="1.5"/><circle cx="377.0" cy="768.6" r="6.6" fill="#fff" stroke="#3d70c0" stroke-width="1.5"/><path d="M337.5,737 q3.5,2.5 0,5 q-3.5,2.5 0,5 q3.5,2.5 0,5 q-3.5,2.5 0,5 q3.5,2.5 0,5 q-3.5,2.5 0,5 q3.5,2.5 0,5 q-3.5,2.5 0,5" fill="none" stroke="#151515" stroke-width="2.8"/><path d="M342.5,737.5 q3.5,2.5 0,5 q-3.5,2.5 0,5 q3.5,2.5 0,5 q-3.5,2.5 0,5 q3.5,2.5 0,5 q-3.5,2.5 0,5 q3.5,2.5 0,5 q-3.5,2.5 0,5" fill="none" stroke="#151515" stroke-width="2.8"/><path filter="url(#bmp)" d="M337,774 C336,776 341,773 345,775 C350,772 356,776 360,779 C366,778 371,783 374,786 C380,786 383,790 381,795 C384,800 382,806 379,808 C377,813 370,815 366,815 C362,820 354,820 350,818 C344,820 338,816 336,812 C331,810 330,803 332,799 C330,793 333,787 334,783 C333,779 335,776 337,774 Z" fill="#9d92c6"/><line x1="124.0" y1="710.5" x2="138.5" y2="710.5" stroke="#1a1a1a" stroke-width="1.6"/><path d="M157.5,710.5 L134.5,717.5 L138.5,710.5 L134.5,703.5 Z" fill="#1a1a1a"/><line x1="422.0" y1="710.5" x2="406.3" y2="710.5" stroke="#1a1a1a" stroke-width="1.6"/><path d="M387.3,710.5 L410.3,703.5 L406.3,710.5 L410.3,717.5 Z" fill="#1a1a1a"/><line x1="158.0" y1="754.0" x2="143.3" y2="754.0" stroke="#1a1a1a" stroke-width="1.6"/><path d="M124.3,754.0 L147.3,747.0 L143.3,754.0 L147.3,761.0 Z" fill="#1a1a1a"/><line x1="388.0" y1="754.0" x2="403.0" y2="754.0" stroke="#1a1a1a" stroke-width="1.6"/><path d="M422.0,754.0 L399.0,761.0 L403.0,754.0 L399.0,747.0 Z" fill="#1a1a1a"/><path d="M263,647 L282.3,685 L299.5,653.5" fill="none" stroke="#3a3a3a" stroke-width="1.7" stroke-dasharray="3.2,2"/><path d="M302.5,647.3 L296.6,652.2 L301.6,655 Z" fill="#3a3a3a"/><line x1="463.3" y1="622.5" x2="463.0" y2="647.5" stroke="#505050" stroke-width="0.8"/><line x1="468.0" y1="622.5" x2="468.3" y2="646.5" stroke="#505050" stroke-width="0.8"/><line x1="475.0" y1="622.5" x2="474.7" y2="647.5" stroke="#505050" stroke-width="0.8"/><line x1="479.7" y1="622.5" x2="480.0" y2="646.5" stroke="#505050" stroke-width="0.8"/><line x1="485.5" y1="622.5" x2="485.2" y2="647.5" stroke="#505050" stroke-width="0.8"/><line x1="490.2" y1="622.5" x2="490.5" y2="646.5" stroke="#505050" stroke-width="0.8"/><line x1="498.3" y1="622.5" x2="498.0" y2="647.5" stroke="#505050" stroke-width="0.8"/><line x1="503.0" y1="622.5" x2="503.3" y2="646.5" stroke="#505050" stroke-width="0.8"/><line x1="509.2" y1="622.5" x2="508.9" y2="647.5" stroke="#505050" stroke-width="0.8"/><line x1="513.9" y1="622.5" x2="514.2" y2="646.5" stroke="#505050" stroke-width="0.8"/><line x1="519.2" y1="622.5" x2="518.9" y2="647.5" stroke="#505050" stroke-width="0.8"/><line x1="523.9" y1="622.5" x2="524.2" y2="646.5" stroke="#505050" stroke-width="0.8"/><line x1="530.0" y1="622.5" x2="529.7" y2="647.5" stroke="#505050" stroke-width="0.8"/><line x1="534.7" y1="622.5" x2="535.0" y2="646.5" stroke="#505050" stroke-width="0.8"/><line x1="538.8" y1="622.5" x2="538.5" y2="647.5" stroke="#505050" stroke-width="0.8"/><line x1="543.5" y1="622.5" x2="543.8" y2="646.5" stroke="#505050" stroke-width="0.8"/><line x1="548.3" y1="622.5" x2="548.0" y2="647.5" stroke="#505050" stroke-width="0.8"/><line x1="553.0" y1="622.5" x2="553.3" y2="646.5" stroke="#505050" stroke-width="0.8"/><line x1="558.8" y1="622.5" x2="558.5" y2="647.5" stroke="#505050" stroke-width="0.8"/><line x1="563.5" y1="622.5" x2="563.8" y2="646.5" stroke="#505050" stroke-width="0.8"/><line x1="570.5" y1="622.5" x2="570.2" y2="647.5" stroke="#505050" stroke-width="0.8"/><line x1="575.2" y1="622.5" x2="575.5" y2="646.5" stroke="#505050" stroke-width="0.8"/><line x1="580.8" y1="622.5" x2="580.5" y2="647.5" stroke="#505050" stroke-width="0.8"/><line x1="585.5" y1="622.5" x2="585.8" y2="646.5" stroke="#505050" stroke-width="0.8"/><line x1="590.8" y1="622.5" x2="590.5" y2="647.5" stroke="#505050" stroke-width="0.8"/><line x1="595.5" y1="622.5" x2="595.8" y2="646.5" stroke="#505050" stroke-width="0.8"/><line x1="605.8" y1="622.5" x2="605.5" y2="647.5" stroke="#505050" stroke-width="0.8"/><line x1="610.5" y1="622.5" x2="610.8" y2="646.5" stroke="#505050" stroke-width="0.8"/><line x1="620.8" y1="622.5" x2="620.5" y2="647.5" stroke="#505050" stroke-width="0.8"/><line x1="625.5" y1="622.5" x2="625.8" y2="646.5" stroke="#505050" stroke-width="0.8"/><line x1="633.3" y1="622.5" x2="633.0" y2="647.5" stroke="#505050" stroke-width="0.8"/><line x1="638.0" y1="622.5" x2="638.3" y2="646.5" stroke="#505050" stroke-width="0.8"/><path d="M462.6,671.7 Q464.4,670.6 462.6,669.4 Q460.8,668.3 462.6,667.2 Q464.4,666.0 462.6,664.9 Q460.8,663.7 462.6,662.6 Q464.4,661.5 462.6,660.3 Q460.8,659.2 462.6,658.1 Q464.4,656.9 462.6,655.8 Q460.8,654.7 462.6,653.5 Q464.4,652.4 462.6,651.2 Q460.8,650.1 462.6,649.0 Q464.4,647.8 462.6,646.7" fill="none" stroke="#333" stroke-width="0.9"/><path d="M467.4,671.7 Q469.2,670.6 467.4,669.4 Q465.6,668.2 467.4,667.1 Q469.2,666.0 467.4,664.8 Q465.6,663.7 467.4,662.5 Q469.2,661.4 467.4,660.2 Q465.6,659.1 467.4,657.9 Q469.2,656.8 467.4,655.6 Q465.6,654.5 467.4,653.3 Q469.2,652.2 467.4,651.0 Q465.6,649.9 467.4,648.7" fill="none" stroke="#333" stroke-width="0.9"/><path d="M474.3,671.7 Q476.1,670.6 474.3,669.4 Q472.5,668.3 474.3,667.2 Q476.1,666.0 474.3,664.9 Q472.5,663.7 474.3,662.6 Q476.1,661.5 474.3,660.3 Q472.5,659.2 474.3,658.1 Q476.1,656.9 474.3,655.8 Q472.5,654.7 474.3,653.5 Q476.1,652.4 474.3,651.2 Q472.5,650.1 474.3,649.0 Q476.1,647.8 474.3,646.7" fill="none" stroke="#333" stroke-width="0.9"/><path d="M479.1,671.7 Q480.9,670.6 479.1,669.4 Q477.3,668.2 479.1,667.1 Q480.9,666.0 479.1,664.8 Q477.3,663.7 479.1,662.5 Q480.9,661.4 479.1,660.2 Q477.3,659.1 479.1,657.9 Q480.9,656.8 479.1,655.6 Q477.3,654.5 479.1,653.3 Q480.9,652.2 479.1,651.0 Q477.3,649.9 479.1,648.7" fill="none" stroke="#333" stroke-width="0.9"/><path d="M489.3,671.7 Q491.1,670.6 489.3,669.4 Q487.5,668.3 489.3,667.2 Q491.1,666.0 489.3,664.9 Q487.5,663.7 489.3,662.6 Q491.1,661.5 489.3,660.3 Q487.5,659.2 489.3,658.1 Q491.1,656.9 489.3,655.8 Q487.5,654.7 489.3,653.5 Q491.1,652.4 489.3,651.2 Q487.5,650.1 489.3,649.0 Q491.1,647.8 489.3,646.7" fill="none" stroke="#333" stroke-width="0.9"/><path d="M494.1,671.7 Q495.9,670.6 494.1,669.4 Q492.3,668.2 494.1,667.1 Q495.9,666.0 494.1,664.8 Q492.3,663.7 494.1,662.5 Q495.9,661.4 494.1,660.2 Q492.3,659.1 494.1,657.9 Q495.9,656.8 494.1,655.6 Q492.3,654.5 494.1,653.3 Q495.9,652.2 494.1,651.0 Q492.3,649.9 494.1,648.7" fill="none" stroke="#333" stroke-width="0.9"/><path d="M500.9,671.7 Q502.7,670.6 500.9,669.4 Q499.1,668.3 500.9,667.2 Q502.7,666.0 500.9,664.9 Q499.1,663.7 500.9,662.6 Q502.7,661.5 500.9,660.3 Q499.1,659.2 500.9,658.1 Q502.7,656.9 500.9,655.8 Q499.1,654.7 500.9,653.5 Q502.7,652.4 500.9,651.2 Q499.1,650.1 500.9,649.0 Q502.7,647.8 500.9,646.7" fill="none" stroke="#333" stroke-width="0.9"/><path d="M505.7,671.7 Q507.5,670.6 505.7,669.4 Q503.9,668.2 505.7,667.1 Q507.5,666.0 505.7,664.8 Q503.9,663.7 505.7,662.5 Q507.5,661.4 505.7,660.2 Q503.9,659.1 505.7,657.9 Q507.5,656.8 505.7,655.6 Q503.9,654.5 505.7,653.3 Q507.5,652.2 505.7,651.0 Q503.9,649.9 505.7,648.7" fill="none" stroke="#333" stroke-width="0.9"/><path d="M514.3,671.7 Q516.1,670.6 514.3,669.4 Q512.5,668.3 514.3,667.2 Q516.1,666.0 514.3,664.9 Q512.5,663.7 514.3,662.6 Q516.1,661.5 514.3,660.3 Q512.5,659.2 514.3,658.1 Q516.1,656.9 514.3,655.8 Q512.5,654.7 514.3,653.5 Q516.1,652.4 514.3,651.2 Q512.5,650.1 514.3,649.0 Q516.1,647.8 514.3,646.7" fill="none" stroke="#333" stroke-width="0.9"/><path d="M519.1,671.7 Q520.9,670.6 519.1,669.4 Q517.3,668.2 519.1,667.1 Q520.9,666.0 519.1,664.8 Q517.3,663.7 519.1,662.5 Q520.9,661.4 519.1,660.2 Q517.3,659.1 519.1,657.9 Q520.9,656.8 519.1,655.6 Q517.3,654.5 519.1,653.3 Q520.9,652.2 519.1,651.0 Q517.3,649.9 519.1,648.7" fill="none" stroke="#333" stroke-width="0.9"/><path d="M525.9,671.7 Q527.7,670.6 525.9,669.4 Q524.1,668.3 525.9,667.2 Q527.7,666.0 525.9,664.9 Q524.1,663.7 525.9,662.6 Q527.7,661.5 525.9,660.3 Q524.1,659.2 525.9,658.1 Q527.7,656.9 525.9,655.8 Q524.1,654.7 525.9,653.5 Q527.7,652.4 525.9,651.2 Q524.1,650.1 525.9,649.0 Q527.7,647.8 525.9,646.7" fill="none" stroke="#333" stroke-width="0.9"/><path d="M530.7,671.7 Q532.5,670.6 530.7,669.4 Q528.9,668.2 530.7,667.1 Q532.5,666.0 530.7,664.8 Q528.9,663.7 530.7,662.5 Q532.5,661.4 530.7,660.2 Q528.9,659.1 530.7,657.9 Q532.5,656.8 530.7,655.6 Q528.9,654.5 530.7,653.3 Q532.5,652.2 530.7,651.0 Q528.9,649.9 530.7,648.7" fill="none" stroke="#333" stroke-width="0.9"/><path d="M539.3,671.7 Q541.1,670.6 539.3,669.4 Q537.5,668.3 539.3,667.2 Q541.1,666.0 539.3,664.9 Q537.5,663.7 539.3,662.6 Q541.1,661.5 539.3,660.3 Q537.5,659.2 539.3,658.1 Q541.1,656.9 539.3,655.8 Q537.5,654.7 539.3,653.5 Q541.1,652.4 539.3,651.2 Q537.5,650.1 539.3,649.0 Q541.1,647.8 539.3,646.7" fill="none" stroke="#333" stroke-width="0.9"/><path d="M544.1,671.7 Q545.9,670.6 544.1,669.4 Q542.3,668.2 544.1,667.1 Q545.9,666.0 544.1,664.8 Q542.3,663.7 544.1,662.5 Q545.9,661.4 544.1,660.2 Q542.3,659.1 544.1,657.9 Q545.9,656.8 544.1,655.6 Q542.3,654.5 544.1,653.3 Q545.9,652.2 544.1,651.0 Q542.3,649.9 544.1,648.7" fill="none" stroke="#333" stroke-width="0.9"/><path d="M550.1,671.7 Q551.9,670.6 550.1,669.4 Q548.3,668.3 550.1,667.2 Q551.9,666.0 550.1,664.9 Q548.3,663.7 550.1,662.6 Q551.9,661.5 550.1,660.3 Q548.3,659.2 550.1,658.1 Q551.9,656.9 550.1,655.8 Q548.3,654.7 550.1,653.5 Q551.9,652.4 550.1,651.2 Q548.3,650.1 550.1,649.0 Q551.9,647.8 550.1,646.7" fill="none" stroke="#333" stroke-width="0.9"/><path d="M554.9,671.7 Q556.7,670.6 554.9,669.4 Q553.1,668.2 554.9,667.1 Q556.7,666.0 554.9,664.8 Q553.1,663.7 554.9,662.5 Q556.7,661.4 554.9,660.2 Q553.1,659.1 554.9,657.9 Q556.7,656.8 554.9,655.6 Q553.1,654.5 554.9,653.3 Q556.7,652.2 554.9,651.0 Q553.1,649.9 554.9,648.7" fill="none" stroke="#333" stroke-width="0.9"/><path d="M562.6,671.7 Q564.4,670.6 562.6,669.4 Q560.8,668.3 562.6,667.2 Q564.4,666.0 562.6,664.9 Q560.8,663.7 562.6,662.6 Q564.4,661.5 562.6,660.3 Q560.8,659.2 562.6,658.1 Q564.4,656.9 562.6,655.8 Q560.8,654.7 562.6,653.5 Q564.4,652.4 562.6,651.2 Q560.8,650.1 562.6,649.0 Q564.4,647.8 562.6,646.7" fill="none" stroke="#333" stroke-width="0.9"/><path d="M567.4,671.7 Q569.2,670.6 567.4,669.4 Q565.6,668.2 567.4,667.1 Q569.2,666.0 567.4,664.8 Q565.6,663.7 567.4,662.5 Q569.2,661.4 567.4,660.2 Q565.6,659.1 567.4,657.9 Q569.2,656.8 567.4,655.6 Q565.6,654.5 567.4,653.3 Q569.2,652.2 567.4,651.0 Q565.6,649.9 567.4,648.7" fill="none" stroke="#333" stroke-width="0.9"/><path d="M573.4,671.7 Q575.2,670.6 573.4,669.4 Q571.6,668.3 573.4,667.2 Q575.2,666.0 573.4,664.9 Q571.6,663.7 573.4,662.6 Q575.2,661.5 573.4,660.3 Q571.6,659.2 573.4,658.1 Q575.2,656.9 573.4,655.8 Q571.6,654.7 573.4,653.5 Q575.2,652.4 573.4,651.2 Q571.6,650.1 573.4,649.0 Q575.2,647.8 573.4,646.7" fill="none" stroke="#333" stroke-width="0.9"/><path d="M578.2,671.7 Q580.0,670.6 578.2,669.4 Q576.4,668.2 578.2,667.1 Q580.0,666.0 578.2,664.8 Q576.4,663.7 578.2,662.5 Q580.0,661.4 578.2,660.2 Q576.4,659.1 578.2,657.9 Q580.0,656.8 578.2,655.6 Q576.4,654.5 578.2,653.3 Q580.0,652.2 578.2,651.0 Q576.4,649.9 578.2,648.7" fill="none" stroke="#333" stroke-width="0.9"/><path d="M584.3,671.7 Q586.1,670.6 584.3,669.4 Q582.5,668.3 584.3,667.2 Q586.1,666.0 584.3,664.9 Q582.5,663.7 584.3,662.6 Q586.1,661.5 584.3,660.3 Q582.5,659.2 584.3,658.1 Q586.1,656.9 584.3,655.8 Q582.5,654.7 584.3,653.5 Q586.1,652.4 584.3,651.2 Q582.5,650.1 584.3,649.0 Q586.1,647.8 584.3,646.7" fill="none" stroke="#333" stroke-width="0.9"/><path d="M589.1,671.7 Q590.9,670.6 589.1,669.4 Q587.3,668.2 589.1,667.1 Q590.9,666.0 589.1,664.8 Q587.3,663.7 589.1,662.5 Q590.9,661.4 589.1,660.2 Q587.3,659.1 589.1,657.9 Q590.9,656.8 589.1,655.6 Q587.3,654.5 589.1,653.3 Q590.9,652.2 589.1,651.0 Q587.3,649.9 589.1,648.7" fill="none" stroke="#333" stroke-width="0.9"/><path d="M597.6,671.7 Q599.4,670.6 597.6,669.4 Q595.8,668.3 597.6,667.2 Q599.4,666.0 597.6,664.9 Q595.8,663.7 597.6,662.6 Q599.4,661.5 597.6,660.3 Q595.8,659.2 597.6,658.1 Q599.4,656.9 597.6,655.8 Q595.8,654.7 597.6,653.5 Q599.4,652.4 597.6,651.2 Q595.8,650.1 597.6,649.0 Q599.4,647.8 597.6,646.7" fill="none" stroke="#333" stroke-width="0.9"/><path d="M602.4,671.7 Q604.2,670.6 602.4,669.4 Q600.6,668.2 602.4,667.1 Q604.2,666.0 602.4,664.8 Q600.6,663.7 602.4,662.5 Q604.2,661.4 602.4,660.2 Q600.6,659.1 602.4,657.9 Q604.2,656.8 602.4,655.6 Q600.6,654.5 602.4,653.3 Q604.2,652.2 602.4,651.0 Q600.6,649.9 602.4,648.7" fill="none" stroke="#333" stroke-width="0.9"/><path d="M612.6,671.7 Q614.4,670.6 612.6,669.4 Q610.8,668.3 612.6,667.2 Q614.4,666.0 612.6,664.9 Q610.8,663.7 612.6,662.6 Q614.4,661.5 612.6,660.3 Q610.8,659.2 612.6,658.1 Q614.4,656.9 612.6,655.8 Q610.8,654.7 612.6,653.5 Q614.4,652.4 612.6,651.2 Q610.8,650.1 612.6,649.0 Q614.4,647.8 612.6,646.7" fill="none" stroke="#333" stroke-width="0.9"/><path d="M617.4,671.7 Q619.2,670.6 617.4,669.4 Q615.6,668.2 617.4,667.1 Q619.2,666.0 617.4,664.8 Q615.6,663.7 617.4,662.5 Q619.2,661.4 617.4,660.2 Q615.6,659.1 617.4,657.9 Q619.2,656.8 617.4,655.6 Q615.6,654.5 617.4,653.3 Q619.2,652.2 617.4,651.0 Q615.6,649.9 617.4,648.7" fill="none" stroke="#333" stroke-width="0.9"/><path d="M623.4,671.7 Q625.2,670.6 623.4,669.4 Q621.6,668.3 623.4,667.2 Q625.2,666.0 623.4,664.9 Q621.6,663.7 623.4,662.6 Q625.2,661.5 623.4,660.3 Q621.6,659.2 623.4,658.1 Q625.2,656.9 623.4,655.8 Q621.6,654.7 623.4,653.5 Q625.2,652.4 623.4,651.2 Q621.6,650.1 623.4,649.0 Q625.2,647.8 623.4,646.7" fill="none" stroke="#333" stroke-width="0.9"/><path d="M628.2,671.7 Q630.0,670.6 628.2,669.4 Q626.4,668.2 628.2,667.1 Q630.0,666.0 628.2,664.8 Q626.4,663.7 628.2,662.5 Q630.0,661.4 628.2,660.2 Q626.4,659.1 628.2,657.9 Q630.0,656.8 628.2,655.6 Q626.4,654.5 628.2,653.3 Q630.0,652.2 628.2,651.0 Q626.4,649.9 628.2,648.7" fill="none" stroke="#333" stroke-width="0.9"/><path d="M635.1,671.7 Q636.9,670.6 635.1,669.4 Q633.3,668.3 635.1,667.2 Q636.9,666.0 635.1,664.9 Q633.3,663.7 635.1,662.6 Q636.9,661.5 635.1,660.3 Q633.3,659.2 635.1,658.1 Q636.9,656.9 635.1,655.8 Q633.3,654.7 635.1,653.5 Q636.9,652.4 635.1,651.2 Q633.3,650.1 635.1,649.0 Q636.9,647.8 635.1,646.7" fill="none" stroke="#333" stroke-width="0.9"/><path d="M639.9,671.7 Q641.7,670.6 639.9,669.4 Q638.1,668.2 639.9,667.1 Q641.7,666.0 639.9,664.8 Q638.1,663.7 639.9,662.5 Q641.7,661.4 639.9,660.2 Q638.1,659.1 639.9,657.9 Q641.7,656.8 639.9,655.6 Q638.1,654.5 639.9,653.3 Q641.7,652.2 639.9,651.0 Q638.1,649.9 639.9,648.7" fill="none" stroke="#333" stroke-width="0.9"/><circle cx="465.8" cy="617.5" r="5.6" fill="#fff" stroke="#e5553b" stroke-width="1.3"/><circle cx="477.5" cy="617.5" r="5.6" fill="#fff" stroke="#e5553b" stroke-width="1.3"/><circle cx="488.0" cy="617.5" r="5.6" fill="#f5b865" stroke="#e8803a" stroke-width="1.3"/><circle cx="500.8" cy="617.5" r="5.6" fill="#fff" stroke="#f0a13a" stroke-width="1.3"/><circle cx="511.7" cy="617.5" r="5.6" fill="#f5b865" stroke="#e8803a" stroke-width="1.3"/><circle cx="521.7" cy="617.5" r="5.6" fill="#fff" stroke="#e5553b" stroke-width="1.3"/><circle cx="532.5" cy="617.5" r="5.6" fill="#fff" stroke="#e5553b" stroke-width="1.3"/><circle cx="541.3" cy="617.5" r="5.6" fill="#fff" stroke="#e5553b" stroke-width="1.3"/><circle cx="550.8" cy="617.5" r="5.6" fill="#f5b865" stroke="#e8803a" stroke-width="1.3"/><circle cx="561.3" cy="617.5" r="5.6" fill="#fff" stroke="#e5553b" stroke-width="1.3"/><circle cx="573.0" cy="617.5" r="5.6" fill="#fff" stroke="#e5553b" stroke-width="1.3"/><circle cx="583.3" cy="617.5" r="5.6" fill="#f5b865" stroke="#e8803a" stroke-width="1.3"/><circle cx="593.3" cy="617.5" r="5.6" fill="#fff" stroke="#f0a13a" stroke-width="1.3"/><circle cx="608.3" cy="617.5" r="5.6" fill="#fff" stroke="#e5553b" stroke-width="1.3"/><circle cx="623.3" cy="617.5" r="5.6" fill="#fff" stroke="#e5553b" stroke-width="1.3"/><circle cx="635.8" cy="617.5" r="5.6" fill="#fff" stroke="#e5553b" stroke-width="1.3"/><circle cx="472.0" cy="621.5" r="1.6" fill="#1e6e2a"/><path d="M474.2,638.2 L475.6,641.2 L473.1,644.2 L475.1,647.2" fill="none" stroke="#27873a" stroke-width="1.1"/><circle cx="471.4" cy="625.3" r="2.6" fill="#c8f2c8" stroke="#27873a" stroke-width="0.95"/><circle cx="473.8" cy="629.6" r="2.6" fill="#c8f2c8" stroke="#27873a" stroke-width="0.95"/><circle cx="471.8" cy="633.9" r="2.6" fill="#c8f2c8" stroke="#27873a" stroke-width="0.95"/><circle cx="474.2" cy="638.2" r="2.6" fill="#c8f2c8" stroke="#27873a" stroke-width="0.95"/><circle cx="495.0" cy="621.5" r="1.6" fill="#1e6e2a"/><path d="M497.2,638.2 L498.6,641.2 L496.1,644.2 L498.1,647.2" fill="none" stroke="#27873a" stroke-width="1.1"/><circle cx="494.4" cy="625.3" r="2.6" fill="#c8f2c8" stroke="#27873a" stroke-width="0.95"/><circle cx="496.8" cy="629.6" r="2.6" fill="#c8f2c8" stroke="#27873a" stroke-width="0.95"/><circle cx="494.8" cy="633.9" r="2.6" fill="#c8f2c8" stroke="#27873a" stroke-width="0.95"/><circle cx="497.2" cy="638.2" r="2.6" fill="#c8f2c8" stroke="#27873a" stroke-width="0.95"/><circle cx="508.0" cy="621.5" r="1.6" fill="#1e6e2a"/><path d="M510.2,638.2 L511.6,641.2 L509.1,644.2 L511.1,647.2" fill="none" stroke="#27873a" stroke-width="1.1"/><circle cx="507.4" cy="625.3" r="2.6" fill="#c8f2c8" stroke="#27873a" stroke-width="0.95"/><circle cx="509.8" cy="629.6" r="2.6" fill="#c8f2c8" stroke="#27873a" stroke-width="0.95"/><circle cx="507.8" cy="633.9" r="2.6" fill="#c8f2c8" stroke="#27873a" stroke-width="0.95"/><circle cx="510.2" cy="638.2" r="2.6" fill="#c8f2c8" stroke="#27873a" stroke-width="0.95"/><circle cx="526.0" cy="621.5" r="1.6" fill="#1e6e2a"/><path d="M528.2,638.2 L529.6,641.2 L527.1,644.2 L529.1,647.2" fill="none" stroke="#27873a" stroke-width="1.1"/><circle cx="525.4" cy="625.3" r="2.6" fill="#c8f2c8" stroke="#27873a" stroke-width="0.95"/><circle cx="527.8" cy="629.6" r="2.6" fill="#c8f2c8" stroke="#27873a" stroke-width="0.95"/><circle cx="525.8" cy="633.9" r="2.6" fill="#c8f2c8" stroke="#27873a" stroke-width="0.95"/><circle cx="528.2" cy="638.2" r="2.6" fill="#c8f2c8" stroke="#27873a" stroke-width="0.95"/><circle cx="555.0" cy="621.5" r="1.6" fill="#1e6e2a"/><path d="M557.2,638.2 L558.6,641.2 L556.1,644.2 L558.1,647.2" fill="none" stroke="#27873a" stroke-width="1.1"/><circle cx="554.4" cy="625.3" r="2.6" fill="#c8f2c8" stroke="#27873a" stroke-width="0.95"/><circle cx="556.8" cy="629.6" r="2.6" fill="#c8f2c8" stroke="#27873a" stroke-width="0.95"/><circle cx="554.8" cy="633.9" r="2.6" fill="#c8f2c8" stroke="#27873a" stroke-width="0.95"/><circle cx="557.2" cy="638.2" r="2.6" fill="#c8f2c8" stroke="#27873a" stroke-width="0.95"/><circle cx="563.0" cy="621.5" r="1.6" fill="#1e6e2a"/><path d="M565.2,638.2 L566.6,641.2 L564.1,644.2 L566.1,647.2" fill="none" stroke="#27873a" stroke-width="1.1"/><circle cx="562.4" cy="625.3" r="2.6" fill="#c8f2c8" stroke="#27873a" stroke-width="0.95"/><circle cx="564.8" cy="629.6" r="2.6" fill="#c8f2c8" stroke="#27873a" stroke-width="0.95"/><circle cx="562.8" cy="633.9" r="2.6" fill="#c8f2c8" stroke="#27873a" stroke-width="0.95"/><circle cx="565.2" cy="638.2" r="2.6" fill="#c8f2c8" stroke="#27873a" stroke-width="0.95"/><circle cx="577.0" cy="621.5" r="1.6" fill="#1e6e2a"/><path d="M579.2,638.2 L580.6,641.2 L578.1,644.2 L580.1,647.2" fill="none" stroke="#27873a" stroke-width="1.1"/><circle cx="576.4" cy="625.3" r="2.6" fill="#c8f2c8" stroke="#27873a" stroke-width="0.95"/><circle cx="578.8" cy="629.6" r="2.6" fill="#c8f2c8" stroke="#27873a" stroke-width="0.95"/><circle cx="576.8" cy="633.9" r="2.6" fill="#c8f2c8" stroke="#27873a" stroke-width="0.95"/><circle cx="579.2" cy="638.2" r="2.6" fill="#c8f2c8" stroke="#27873a" stroke-width="0.95"/><circle cx="595.0" cy="621.5" r="1.6" fill="#1e6e2a"/><path d="M597.2,638.2 L598.6,641.2 L596.1,644.2 L598.1,647.2" fill="none" stroke="#27873a" stroke-width="1.1"/><circle cx="594.4" cy="625.3" r="2.6" fill="#c8f2c8" stroke="#27873a" stroke-width="0.95"/><circle cx="596.8" cy="629.6" r="2.6" fill="#c8f2c8" stroke="#27873a" stroke-width="0.95"/><circle cx="594.8" cy="633.9" r="2.6" fill="#c8f2c8" stroke="#27873a" stroke-width="0.95"/><circle cx="597.2" cy="638.2" r="2.6" fill="#c8f2c8" stroke="#27873a" stroke-width="0.95"/><circle cx="610.0" cy="621.5" r="1.6" fill="#1e6e2a"/><path d="M612.2,638.2 L613.6,641.2 L611.1,644.2 L613.1,647.2" fill="none" stroke="#27873a" stroke-width="1.1"/><circle cx="609.4" cy="625.3" r="2.6" fill="#c8f2c8" stroke="#27873a" stroke-width="0.95"/><circle cx="611.8" cy="629.6" r="2.6" fill="#c8f2c8" stroke="#27873a" stroke-width="0.95"/><circle cx="609.8" cy="633.9" r="2.6" fill="#c8f2c8" stroke="#27873a" stroke-width="0.95"/><circle cx="612.2" cy="638.2" r="2.6" fill="#c8f2c8" stroke="#27873a" stroke-width="0.95"/><circle cx="626.0" cy="621.5" r="1.6" fill="#1e6e2a"/><path d="M628.2,638.2 L629.6,641.2 L627.1,644.2 L629.1,647.2" fill="none" stroke="#27873a" stroke-width="1.1"/><circle cx="625.4" cy="625.3" r="2.6" fill="#c8f2c8" stroke="#27873a" stroke-width="0.95"/><circle cx="627.8" cy="629.6" r="2.6" fill="#c8f2c8" stroke="#27873a" stroke-width="0.95"/><circle cx="625.8" cy="633.9" r="2.6" fill="#c8f2c8" stroke="#27873a" stroke-width="0.95"/><circle cx="628.2" cy="638.2" r="2.6" fill="#c8f2c8" stroke="#27873a" stroke-width="0.95"/><circle cx="487.0" cy="671.7" r="1.6" fill="#1e6e2a"/><path d="M488.0,655.0 L489.4,652.0 L486.9,649.0 L488.9,646.0" fill="none" stroke="#27873a" stroke-width="1.1"/><circle cx="486.4" cy="667.9" r="2.6" fill="#c8f2c8" stroke="#27873a" stroke-width="0.95"/><circle cx="488.4" cy="663.6" r="2.6" fill="#c8f2c8" stroke="#27873a" stroke-width="0.95"/><circle cx="486.0" cy="659.3" r="2.6" fill="#c8f2c8" stroke="#27873a" stroke-width="0.95"/><circle cx="488.0" cy="655.0" r="2.6" fill="#c8f2c8" stroke="#27873a" stroke-width="0.95"/><circle cx="512.0" cy="671.7" r="1.6" fill="#1e6e2a"/><path d="M513.0,655.0 L514.4,652.0 L511.9,649.0 L513.9,646.0" fill="none" stroke="#27873a" stroke-width="1.1"/><circle cx="511.4" cy="667.9" r="2.6" fill="#c8f2c8" stroke="#27873a" stroke-width="0.95"/><circle cx="513.4" cy="663.6" r="2.6" fill="#c8f2c8" stroke="#27873a" stroke-width="0.95"/><circle cx="511.0" cy="659.3" r="2.6" fill="#c8f2c8" stroke="#27873a" stroke-width="0.95"/><circle cx="513.0" cy="655.0" r="2.6" fill="#c8f2c8" stroke="#27873a" stroke-width="0.95"/><circle cx="531.0" cy="671.7" r="1.6" fill="#1e6e2a"/><path d="M532.0,655.0 L533.4,652.0 L530.9,649.0 L532.9,646.0" fill="none" stroke="#27873a" stroke-width="1.1"/><circle cx="530.4" cy="667.9" r="2.6" fill="#c8f2c8" stroke="#27873a" stroke-width="0.95"/><circle cx="532.4" cy="663.6" r="2.6" fill="#c8f2c8" stroke="#27873a" stroke-width="0.95"/><circle cx="530.0" cy="659.3" r="2.6" fill="#c8f2c8" stroke="#27873a" stroke-width="0.95"/><circle cx="532.0" cy="655.0" r="2.6" fill="#c8f2c8" stroke="#27873a" stroke-width="0.95"/><circle cx="561.0" cy="671.7" r="1.6" fill="#1e6e2a"/><path d="M562.0,655.0 L563.4,652.0 L560.9,649.0 L562.9,646.0" fill="none" stroke="#27873a" stroke-width="1.1"/><circle cx="560.4" cy="667.9" r="2.6" fill="#c8f2c8" stroke="#27873a" stroke-width="0.95"/><circle cx="562.4" cy="663.6" r="2.6" fill="#c8f2c8" stroke="#27873a" stroke-width="0.95"/><circle cx="560.0" cy="659.3" r="2.6" fill="#c8f2c8" stroke="#27873a" stroke-width="0.95"/><circle cx="562.0" cy="655.0" r="2.6" fill="#c8f2c8" stroke="#27873a" stroke-width="0.95"/><circle cx="590.0" cy="671.7" r="1.6" fill="#1e6e2a"/><path d="M591.0,655.0 L592.4,652.0 L589.9,649.0 L591.9,646.0" fill="none" stroke="#27873a" stroke-width="1.1"/><circle cx="589.4" cy="667.9" r="2.6" fill="#c8f2c8" stroke="#27873a" stroke-width="0.95"/><circle cx="591.4" cy="663.6" r="2.6" fill="#c8f2c8" stroke="#27873a" stroke-width="0.95"/><circle cx="589.0" cy="659.3" r="2.6" fill="#c8f2c8" stroke="#27873a" stroke-width="0.95"/><circle cx="591.0" cy="655.0" r="2.6" fill="#c8f2c8" stroke="#27873a" stroke-width="0.95"/><circle cx="606.0" cy="671.7" r="1.6" fill="#1e6e2a"/><path d="M607.0,655.0 L608.4,652.0 L605.9,649.0 L607.9,646.0" fill="none" stroke="#27873a" stroke-width="1.1"/><circle cx="605.4" cy="667.9" r="2.6" fill="#c8f2c8" stroke="#27873a" stroke-width="0.95"/><circle cx="607.4" cy="663.6" r="2.6" fill="#c8f2c8" stroke="#27873a" stroke-width="0.95"/><circle cx="605.0" cy="659.3" r="2.6" fill="#c8f2c8" stroke="#27873a" stroke-width="0.95"/><circle cx="607.0" cy="655.0" r="2.6" fill="#c8f2c8" stroke="#27873a" stroke-width="0.95"/><circle cx="465.0" cy="676.7" r="5.8" fill="#fff" stroke="#3d70c0" stroke-width="1.3"/><circle cx="476.7" cy="676.7" r="5.8" fill="#fff" stroke="#3d70c0" stroke-width="1.3"/><circle cx="491.7" cy="676.7" r="5.8" fill="#fff" stroke="#3d70c0" stroke-width="1.3"/><circle cx="503.3" cy="676.7" r="5.8" fill="#fff" stroke="#3d70c0" stroke-width="1.3"/><circle cx="516.7" cy="676.7" r="5.8" fill="#fff" stroke="#3d70c0" stroke-width="1.3"/><circle cx="528.3" cy="676.7" r="5.8" fill="#fff" stroke="#3d70c0" stroke-width="1.3"/><circle cx="541.7" cy="676.7" r="5.8" fill="#fff" stroke="#3d70c0" stroke-width="1.3"/><circle cx="552.5" cy="676.7" r="5.8" fill="#fff" stroke="#3d70c0" stroke-width="1.3"/><circle cx="565.0" cy="676.7" r="5.8" fill="#fff" stroke="#3d70c0" stroke-width="1.3"/><circle cx="575.8" cy="676.7" r="5.8" fill="#fff" stroke="#3d70c0" stroke-width="1.3"/><circle cx="586.7" cy="676.7" r="5.8" fill="#fff" stroke="#3d70c0" stroke-width="1.3"/><circle cx="600.0" cy="676.7" r="5.8" fill="#fff" stroke="#3d70c0" stroke-width="1.3"/><circle cx="615.0" cy="676.7" r="5.8" fill="#fff" stroke="#3d70c0" stroke-width="1.3"/><circle cx="625.8" cy="676.7" r="5.8" fill="#fff" stroke="#3d70c0" stroke-width="1.3"/><circle cx="637.5" cy="676.7" r="5.8" fill="#fff" stroke="#3d70c0" stroke-width="1.3"/><line x1="455.0" y1="757.0" x2="454.7" y2="779.0" stroke="#4a4a4a" stroke-width="0.9"/><path d="M459.3,757.0 Q461.2,758.1 459.3,759.3 Q457.4,760.5 459.3,761.6 Q461.2,762.8 459.3,763.9 Q457.4,765.0 459.3,766.2 Q461.2,767.4 459.3,768.5 Q457.4,769.6 459.3,770.8 Q461.2,772.0 459.3,773.1 Q457.4,774.2 459.3,775.4 Q461.2,776.5 459.3,777.7 Q457.4,778.9 459.3,780.0" fill="none" stroke="#333" stroke-width="0.9"/><line x1="469.0" y1="757.0" x2="468.7" y2="779.0" stroke="#4a4a4a" stroke-width="0.9"/><path d="M473.3,757.0 Q475.2,758.1 473.3,759.3 Q471.4,760.5 473.3,761.6 Q475.2,762.8 473.3,763.9 Q471.4,765.0 473.3,766.2 Q475.2,767.4 473.3,768.5 Q471.4,769.6 473.3,770.8 Q475.2,772.0 473.3,773.1 Q471.4,774.2 473.3,775.4 Q475.2,776.5 473.3,777.7 Q471.4,778.9 473.3,780.0" fill="none" stroke="#333" stroke-width="0.9"/><line x1="483.0" y1="757.0" x2="482.7" y2="779.0" stroke="#4a4a4a" stroke-width="0.9"/><path d="M487.3,757.0 Q489.2,758.1 487.3,759.3 Q485.4,760.5 487.3,761.6 Q489.2,762.8 487.3,763.9 Q485.4,765.0 487.3,766.2 Q489.2,767.4 487.3,768.5 Q485.4,769.6 487.3,770.8 Q489.2,772.0 487.3,773.1 Q485.4,774.2 487.3,775.4 Q489.2,776.5 487.3,777.7 Q485.4,778.9 487.3,780.0" fill="none" stroke="#333" stroke-width="0.9"/><line x1="494.4" y1="757.0" x2="494.1" y2="779.0" stroke="#4a4a4a" stroke-width="0.9"/><path d="M498.7,757.0 Q500.6,758.1 498.7,759.3 Q496.8,760.5 498.7,761.6 Q500.6,762.8 498.7,763.9 Q496.8,765.0 498.7,766.2 Q500.6,767.4 498.7,768.5 Q496.8,769.6 498.7,770.8 Q500.6,772.0 498.7,773.1 Q496.8,774.2 498.7,775.4 Q500.6,776.5 498.7,777.7 Q496.8,778.9 498.7,780.0" fill="none" stroke="#333" stroke-width="0.9"/><line x1="505.0" y1="757.0" x2="504.7" y2="779.0" stroke="#4a4a4a" stroke-width="0.9"/><path d="M509.3,757.0 Q511.2,758.1 509.3,759.3 Q507.4,760.5 509.3,761.6 Q511.2,762.8 509.3,763.9 Q507.4,765.0 509.3,766.2 Q511.2,767.4 509.3,768.5 Q507.4,769.6 509.3,770.8 Q511.2,772.0 509.3,773.1 Q507.4,774.2 509.3,775.4 Q511.2,776.5 509.3,777.7 Q507.4,778.9 509.3,780.0" fill="none" stroke="#333" stroke-width="0.9"/><line x1="520.0" y1="757.0" x2="519.7" y2="779.0" stroke="#4a4a4a" stroke-width="0.9"/><path d="M524.3,757.0 Q526.2,758.1 524.3,759.3 Q522.4,760.5 524.3,761.6 Q526.2,762.8 524.3,763.9 Q522.4,765.0 524.3,766.2 Q526.2,767.4 524.3,768.5 Q522.4,769.6 524.3,770.8 Q526.2,772.0 524.3,773.1 Q522.4,774.2 524.3,775.4 Q526.2,776.5 524.3,777.7 Q522.4,778.9 524.3,780.0" fill="none" stroke="#333" stroke-width="0.9"/><line x1="575.6" y1="757.0" x2="575.3" y2="779.0" stroke="#4a4a4a" stroke-width="0.9"/><path d="M579.9,757.0 Q581.8,758.1 579.9,759.3 Q578.0,760.5 579.9,761.6 Q581.8,762.8 579.9,763.9 Q578.0,765.0 579.9,766.2 Q581.8,767.4 579.9,768.5 Q578.0,769.6 579.9,770.8 Q581.8,772.0 579.9,773.1 Q578.0,774.2 579.9,775.4 Q581.8,776.5 579.9,777.7 Q578.0,778.9 579.9,780.0" fill="none" stroke="#333" stroke-width="0.9"/><line x1="586.0" y1="757.0" x2="585.7" y2="779.0" stroke="#4a4a4a" stroke-width="0.9"/><path d="M590.3,757.0 Q592.2,758.1 590.3,759.3 Q588.4,760.5 590.3,761.6 Q592.2,762.8 590.3,763.9 Q588.4,765.0 590.3,766.2 Q592.2,767.4 590.3,768.5 Q588.4,769.6 590.3,770.8 Q592.2,772.0 590.3,773.1 Q588.4,774.2 590.3,775.4 Q592.2,776.5 590.3,777.7 Q588.4,778.9 590.3,780.0" fill="none" stroke="#333" stroke-width="0.9"/><line x1="596.0" y1="757.0" x2="595.7" y2="779.0" stroke="#4a4a4a" stroke-width="0.9"/><path d="M600.3,757.0 Q602.2,758.1 600.3,759.3 Q598.4,760.5 600.3,761.6 Q602.2,762.8 600.3,763.9 Q598.4,765.0 600.3,766.2 Q602.2,767.4 600.3,768.5 Q598.4,769.6 600.3,770.8 Q602.2,772.0 600.3,773.1 Q598.4,774.2 600.3,775.4 Q602.2,776.5 600.3,777.7 Q598.4,778.9 600.3,780.0" fill="none" stroke="#333" stroke-width="0.9"/><line x1="610.4" y1="757.0" x2="610.1" y2="779.0" stroke="#4a4a4a" stroke-width="0.9"/><path d="M614.7,757.0 Q616.6,758.1 614.7,759.3 Q612.8,760.5 614.7,761.6 Q616.6,762.8 614.7,763.9 Q612.8,765.0 614.7,766.2 Q616.6,767.4 614.7,768.5 Q612.8,769.6 614.7,770.8 Q616.6,772.0 614.7,773.1 Q612.8,774.2 614.7,775.4 Q616.6,776.5 614.7,777.7 Q612.8,778.9 614.7,780.0" fill="none" stroke="#333" stroke-width="0.9"/><line x1="621.6" y1="757.0" x2="621.3" y2="779.0" stroke="#4a4a4a" stroke-width="0.9"/><path d="M625.9,757.0 Q627.8,758.1 625.9,759.3 Q624.0,760.5 625.9,761.6 Q627.8,762.8 625.9,763.9 Q624.0,765.0 625.9,766.2 Q627.8,767.4 625.9,768.5 Q624.0,769.6 625.9,770.8 Q627.8,772.0 625.9,773.1 Q624.0,774.2 625.9,775.4 Q627.8,776.5 625.9,777.7 Q624.0,778.9 625.9,780.0" fill="none" stroke="#333" stroke-width="0.9"/><line x1="636.0" y1="757.0" x2="635.7" y2="779.0" stroke="#4a4a4a" stroke-width="0.9"/><path d="M640.3,757.0 Q642.2,758.1 640.3,759.3 Q638.4,760.5 640.3,761.6 Q642.2,762.8 640.3,763.9 Q638.4,765.0 640.3,766.2 Q642.2,767.4 640.3,768.5 Q638.4,769.6 640.3,770.8 Q642.2,772.0 640.3,773.1 Q638.4,774.2 640.3,775.4 Q642.2,776.5 640.3,777.7 Q638.4,778.9 640.3,780.0" fill="none" stroke="#333" stroke-width="0.9"/><line x1="646.0" y1="757.0" x2="645.7" y2="779.0" stroke="#4a4a4a" stroke-width="0.9"/><path d="M650.3,757.0 Q652.2,758.1 650.3,759.3 Q648.4,760.5 650.3,761.6 Q652.2,762.8 650.3,763.9 Q648.4,765.0 650.3,766.2 Q652.2,767.4 650.3,768.5 Q648.4,769.6 650.3,770.8 Q652.2,772.0 650.3,773.1 Q648.4,774.2 650.3,775.4 Q652.2,776.5 650.3,777.7 Q648.4,778.9 650.3,780.0" fill="none" stroke="#333" stroke-width="0.9"/><line x1="655.0" y1="757.0" x2="654.7" y2="779.0" stroke="#4a4a4a" stroke-width="0.9"/><path d="M659.3,757.0 Q661.2,758.1 659.3,759.3 Q657.4,760.5 659.3,761.6 Q661.2,762.8 659.3,763.9 Q657.4,765.0 659.3,766.2 Q661.2,767.4 659.3,768.5 Q657.4,769.6 659.3,770.8 Q661.2,772.0 659.3,773.1 Q657.4,774.2 659.3,775.4 Q661.2,776.5 659.3,777.7 Q657.4,778.9 659.3,780.0" fill="none" stroke="#333" stroke-width="0.9"/><path d="M453.7,806.3 Q455.6,805.2 453.7,804.1 Q451.8,803.0 453.7,801.9 Q455.6,800.8 453.7,799.7 Q451.8,798.6 453.7,797.5 Q455.6,796.4 453.7,795.3 Q451.8,794.2 453.7,793.1 Q455.6,792.0 453.7,790.9 Q451.8,789.8 453.7,788.7 Q455.6,787.6 453.7,786.5 Q451.8,785.4 453.7,784.3" fill="none" stroke="#333" stroke-width="0.9"/><line x1="458.0" y1="806.3" x2="458.3" y2="785.3" stroke="#4a4a4a" stroke-width="0.9"/><path d="M467.7,806.3 Q469.6,805.2 467.7,804.1 Q465.8,803.0 467.7,801.9 Q469.6,800.8 467.7,799.7 Q465.8,798.6 467.7,797.5 Q469.6,796.4 467.7,795.3 Q465.8,794.2 467.7,793.1 Q469.6,792.0 467.7,790.9 Q465.8,789.8 467.7,788.7 Q469.6,787.6 467.7,786.5 Q465.8,785.4 467.7,784.3" fill="none" stroke="#333" stroke-width="0.9"/><line x1="472.0" y1="806.3" x2="472.3" y2="785.3" stroke="#4a4a4a" stroke-width="0.9"/><path d="M478.7,806.3 Q480.6,805.2 478.7,804.1 Q476.8,803.0 478.7,801.9 Q480.6,800.8 478.7,799.7 Q476.8,798.6 478.7,797.5 Q480.6,796.4 478.7,795.3 Q476.8,794.2 478.7,793.1 Q480.6,792.0 478.7,790.9 Q476.8,789.8 478.7,788.7 Q480.6,787.6 478.7,786.5 Q476.8,785.4 478.7,784.3" fill="none" stroke="#333" stroke-width="0.9"/><line x1="483.0" y1="806.3" x2="483.3" y2="785.3" stroke="#4a4a4a" stroke-width="0.9"/><path d="M493.3,806.3 Q495.2,805.2 493.3,804.1 Q491.4,803.0 493.3,801.9 Q495.2,800.8 493.3,799.7 Q491.4,798.6 493.3,797.5 Q495.2,796.4 493.3,795.3 Q491.4,794.2 493.3,793.1 Q495.2,792.0 493.3,790.9 Q491.4,789.8 493.3,788.7 Q495.2,787.6 493.3,786.5 Q491.4,785.4 493.3,784.3" fill="none" stroke="#333" stroke-width="0.9"/><line x1="497.6" y1="806.3" x2="497.9" y2="785.3" stroke="#4a4a4a" stroke-width="0.9"/><path d="M507.7,806.3 Q509.6,805.2 507.7,804.1 Q505.8,803.0 507.7,801.9 Q509.6,800.8 507.7,799.7 Q505.8,798.6 507.7,797.5 Q509.6,796.4 507.7,795.3 Q505.8,794.2 507.7,793.1 Q509.6,792.0 507.7,790.9 Q505.8,789.8 507.7,788.7 Q509.6,787.6 507.7,786.5 Q505.8,785.4 507.7,784.3" fill="none" stroke="#333" stroke-width="0.9"/><line x1="512.0" y1="806.3" x2="512.3" y2="785.3" stroke="#4a4a4a" stroke-width="0.9"/><path d="M518.7,806.3 Q520.6,805.2 518.7,804.1 Q516.8,803.0 518.7,801.9 Q520.6,800.8 518.7,799.7 Q516.8,798.6 518.7,797.5 Q520.6,796.4 518.7,795.3 Q516.8,794.2 518.7,793.1 Q520.6,792.0 518.7,790.9 Q516.8,789.8 518.7,788.7 Q520.6,787.6 518.7,786.5 Q516.8,785.4 518.7,784.3" fill="none" stroke="#333" stroke-width="0.9"/><line x1="523.0" y1="806.3" x2="523.3" y2="785.3" stroke="#4a4a4a" stroke-width="0.9"/><path d="M573.7,806.3 Q575.6,805.2 573.7,804.1 Q571.8,803.0 573.7,801.9 Q575.6,800.8 573.7,799.7 Q571.8,798.6 573.7,797.5 Q575.6,796.4 573.7,795.3 Q571.8,794.2 573.7,793.1 Q575.6,792.0 573.7,790.9 Q571.8,789.8 573.7,788.7 Q575.6,787.6 573.7,786.5 Q571.8,785.4 573.7,784.3" fill="none" stroke="#333" stroke-width="0.9"/><line x1="578.0" y1="806.3" x2="578.3" y2="785.3" stroke="#4a4a4a" stroke-width="0.9"/><path d="M584.7,806.3 Q586.6,805.2 584.7,804.1 Q582.8,803.0 584.7,801.9 Q586.6,800.8 584.7,799.7 Q582.8,798.6 584.7,797.5 Q586.6,796.4 584.7,795.3 Q582.8,794.2 584.7,793.1 Q586.6,792.0 584.7,790.9 Q582.8,789.8 584.7,788.7 Q586.6,787.6 584.7,786.5 Q582.8,785.4 584.7,784.3" fill="none" stroke="#333" stroke-width="0.9"/><line x1="589.0" y1="806.3" x2="589.3" y2="785.3" stroke="#4a4a4a" stroke-width="0.9"/><path d="M595.7,806.3 Q597.6,805.2 595.7,804.1 Q593.8,803.0 595.7,801.9 Q597.6,800.8 595.7,799.7 Q593.8,798.6 595.7,797.5 Q597.6,796.4 595.7,795.3 Q593.8,794.2 595.7,793.1 Q597.6,792.0 595.7,790.9 Q593.8,789.8 595.7,788.7 Q597.6,787.6 595.7,786.5 Q593.8,785.4 595.7,784.3" fill="none" stroke="#333" stroke-width="0.9"/><line x1="600.0" y1="806.3" x2="600.3" y2="785.3" stroke="#4a4a4a" stroke-width="0.9"/><path d="M604.7,806.3 Q606.6,805.2 604.7,804.1 Q602.8,803.0 604.7,801.9 Q606.6,800.8 604.7,799.7 Q602.8,798.6 604.7,797.5 Q606.6,796.4 604.7,795.3 Q602.8,794.2 604.7,793.1 Q606.6,792.0 604.7,790.9 Q602.8,789.8 604.7,788.7 Q606.6,787.6 604.7,786.5 Q602.8,785.4 604.7,784.3" fill="none" stroke="#333" stroke-width="0.9"/><line x1="609.0" y1="806.3" x2="609.3" y2="785.3" stroke="#4a4a4a" stroke-width="0.9"/><path d="M619.7,806.3 Q621.6,805.2 619.7,804.1 Q617.8,803.0 619.7,801.9 Q621.6,800.8 619.7,799.7 Q617.8,798.6 619.7,797.5 Q621.6,796.4 619.7,795.3 Q617.8,794.2 619.7,793.1 Q621.6,792.0 619.7,790.9 Q617.8,789.8 619.7,788.7 Q621.6,787.6 619.7,786.5 Q617.8,785.4 619.7,784.3" fill="none" stroke="#333" stroke-width="0.9"/><line x1="624.0" y1="806.3" x2="624.3" y2="785.3" stroke="#4a4a4a" stroke-width="0.9"/><path d="M634.7,806.3 Q636.6,805.2 634.7,804.1 Q632.8,803.0 634.7,801.9 Q636.6,800.8 634.7,799.7 Q632.8,798.6 634.7,797.5 Q636.6,796.4 634.7,795.3 Q632.8,794.2 634.7,793.1 Q636.6,792.0 634.7,790.9 Q632.8,789.8 634.7,788.7 Q636.6,787.6 634.7,786.5 Q632.8,785.4 634.7,784.3" fill="none" stroke="#333" stroke-width="0.9"/><line x1="639.0" y1="806.3" x2="639.3" y2="785.3" stroke="#4a4a4a" stroke-width="0.9"/><path d="M645.7,806.3 Q647.6,805.2 645.7,804.1 Q643.8,803.0 645.7,801.9 Q647.6,800.8 645.7,799.7 Q643.8,798.6 645.7,797.5 Q647.6,796.4 645.7,795.3 Q643.8,794.2 645.7,793.1 Q647.6,792.0 645.7,790.9 Q643.8,789.8 645.7,788.7 Q647.6,787.6 645.7,786.5 Q643.8,785.4 645.7,784.3" fill="none" stroke="#333" stroke-width="0.9"/><line x1="650.0" y1="806.3" x2="650.3" y2="785.3" stroke="#4a4a4a" stroke-width="0.9"/><path d="M655.7,806.3 Q657.6,805.2 655.7,804.1 Q653.8,803.0 655.7,801.9 Q657.6,800.8 655.7,799.7 Q653.8,798.6 655.7,797.5 Q657.6,796.4 655.7,795.3 Q653.8,794.2 655.7,793.1 Q657.6,792.0 655.7,790.9 Q653.8,789.8 655.7,788.7 Q657.6,787.6 655.7,786.5 Q653.8,785.4 655.7,784.3" fill="none" stroke="#333" stroke-width="0.9"/><line x1="660.0" y1="806.3" x2="660.3" y2="785.3" stroke="#4a4a4a" stroke-width="0.9"/><circle cx="462.0" cy="756.0" r="1.6" fill="#1e6e2a"/><path d="M463.9,773.3 L465.3,776.3 L462.8,779.3 L464.8,782.3" fill="none" stroke="#27873a" stroke-width="1.1"/><circle cx="461.3" cy="759.9" r="2.7" fill="#c8f2c8" stroke="#27873a" stroke-width="0.95"/><circle cx="463.7" cy="764.4" r="2.7" fill="#c8f2c8" stroke="#27873a" stroke-width="0.95"/><circle cx="461.5" cy="768.8" r="2.7" fill="#c8f2c8" stroke="#27873a" stroke-width="0.95"/><circle cx="463.9" cy="773.3" r="2.7" fill="#c8f2c8" stroke="#27873a" stroke-width="0.95"/><circle cx="478.0" cy="756.0" r="1.6" fill="#1e6e2a"/><path d="M479.9,773.3 L481.3,776.3 L478.8,779.3 L480.8,782.3" fill="none" stroke="#27873a" stroke-width="1.1"/><circle cx="477.3" cy="759.9" r="2.7" fill="#c8f2c8" stroke="#27873a" stroke-width="0.95"/><circle cx="479.7" cy="764.4" r="2.7" fill="#c8f2c8" stroke="#27873a" stroke-width="0.95"/><circle cx="477.5" cy="768.8" r="2.7" fill="#c8f2c8" stroke="#27873a" stroke-width="0.95"/><circle cx="479.9" cy="773.3" r="2.7" fill="#c8f2c8" stroke="#27873a" stroke-width="0.95"/><circle cx="515.0" cy="756.0" r="1.6" fill="#1e6e2a"/><path d="M516.9,773.3 L518.3,776.3 L515.8,779.3 L517.8,782.3" fill="none" stroke="#27873a" stroke-width="1.1"/><circle cx="514.3" cy="759.9" r="2.7" fill="#c8f2c8" stroke="#27873a" stroke-width="0.95"/><circle cx="516.7" cy="764.4" r="2.7" fill="#c8f2c8" stroke="#27873a" stroke-width="0.95"/><circle cx="514.5" cy="768.8" r="2.7" fill="#c8f2c8" stroke="#27873a" stroke-width="0.95"/><circle cx="516.9" cy="773.3" r="2.7" fill="#c8f2c8" stroke="#27873a" stroke-width="0.95"/><circle cx="604.0" cy="756.0" r="1.6" fill="#1e6e2a"/><path d="M605.9,773.3 L607.3,776.3 L604.8,779.3 L606.8,782.3" fill="none" stroke="#27873a" stroke-width="1.1"/><circle cx="603.3" cy="759.9" r="2.7" fill="#c8f2c8" stroke="#27873a" stroke-width="0.95"/><circle cx="605.7" cy="764.4" r="2.7" fill="#c8f2c8" stroke="#27873a" stroke-width="0.95"/><circle cx="603.5" cy="768.8" r="2.7" fill="#c8f2c8" stroke="#27873a" stroke-width="0.95"/><circle cx="605.9" cy="773.3" r="2.7" fill="#c8f2c8" stroke="#27873a" stroke-width="0.95"/><circle cx="628.0" cy="756.0" r="1.6" fill="#1e6e2a"/><path d="M629.9,773.3 L631.3,776.3 L628.8,779.3 L630.8,782.3" fill="none" stroke="#27873a" stroke-width="1.1"/><circle cx="627.3" cy="759.9" r="2.7" fill="#c8f2c8" stroke="#27873a" stroke-width="0.95"/><circle cx="629.7" cy="764.4" r="2.7" fill="#c8f2c8" stroke="#27873a" stroke-width="0.95"/><circle cx="627.5" cy="768.8" r="2.7" fill="#c8f2c8" stroke="#27873a" stroke-width="0.95"/><circle cx="629.9" cy="773.3" r="2.7" fill="#c8f2c8" stroke="#27873a" stroke-width="0.95"/><circle cx="464.0" cy="806.3" r="1.6" fill="#1e6e2a"/><path d="M465.3,789.0 L466.7,786.0 L464.2,783.0 L466.2,780.0" fill="none" stroke="#27873a" stroke-width="1.1"/><circle cx="463.3" cy="802.4" r="2.7" fill="#c8f2c8" stroke="#27873a" stroke-width="0.95"/><circle cx="465.5" cy="797.9" r="2.7" fill="#c8f2c8" stroke="#27873a" stroke-width="0.95"/><circle cx="463.1" cy="793.5" r="2.7" fill="#c8f2c8" stroke="#27873a" stroke-width="0.95"/><circle cx="465.3" cy="789.0" r="2.7" fill="#c8f2c8" stroke="#27873a" stroke-width="0.95"/><circle cx="488.0" cy="806.3" r="1.6" fill="#1e6e2a"/><path d="M489.3,789.0 L490.7,786.0 L488.2,783.0 L490.2,780.0" fill="none" stroke="#27873a" stroke-width="1.1"/><circle cx="487.3" cy="802.4" r="2.7" fill="#c8f2c8" stroke="#27873a" stroke-width="0.95"/><circle cx="489.5" cy="797.9" r="2.7" fill="#c8f2c8" stroke="#27873a" stroke-width="0.95"/><circle cx="487.1" cy="793.5" r="2.7" fill="#c8f2c8" stroke="#27873a" stroke-width="0.95"/><circle cx="489.3" cy="789.0" r="2.7" fill="#c8f2c8" stroke="#27873a" stroke-width="0.95"/><circle cx="502.0" cy="806.3" r="1.6" fill="#1e6e2a"/><path d="M503.3,789.0 L504.7,786.0 L502.2,783.0 L504.2,780.0" fill="none" stroke="#27873a" stroke-width="1.1"/><circle cx="501.3" cy="802.4" r="2.7" fill="#c8f2c8" stroke="#27873a" stroke-width="0.95"/><circle cx="503.5" cy="797.9" r="2.7" fill="#c8f2c8" stroke="#27873a" stroke-width="0.95"/><circle cx="501.1" cy="793.5" r="2.7" fill="#c8f2c8" stroke="#27873a" stroke-width="0.95"/><circle cx="503.3" cy="789.0" r="2.7" fill="#c8f2c8" stroke="#27873a" stroke-width="0.95"/><circle cx="613.0" cy="806.3" r="1.6" fill="#1e6e2a"/><path d="M614.3,789.0 L615.7,786.0 L613.2,783.0 L615.2,780.0" fill="none" stroke="#27873a" stroke-width="1.1"/><circle cx="612.3" cy="802.4" r="2.7" fill="#c8f2c8" stroke="#27873a" stroke-width="0.95"/><circle cx="614.5" cy="797.9" r="2.7" fill="#c8f2c8" stroke="#27873a" stroke-width="0.95"/><circle cx="612.1" cy="793.5" r="2.7" fill="#c8f2c8" stroke="#27873a" stroke-width="0.95"/><circle cx="614.3" cy="789.0" r="2.7" fill="#c8f2c8" stroke="#27873a" stroke-width="0.95"/><circle cx="629.0" cy="806.3" r="1.6" fill="#1e6e2a"/><path d="M630.3,789.0 L631.7,786.0 L629.2,783.0 L631.2,780.0" fill="none" stroke="#27873a" stroke-width="1.1"/><circle cx="628.3" cy="802.4" r="2.7" fill="#c8f2c8" stroke="#27873a" stroke-width="0.95"/><circle cx="630.5" cy="797.9" r="2.7" fill="#c8f2c8" stroke="#27873a" stroke-width="0.95"/><circle cx="628.1" cy="793.5" r="2.7" fill="#c8f2c8" stroke="#27873a" stroke-width="0.95"/><circle cx="630.3" cy="789.0" r="2.7" fill="#c8f2c8" stroke="#27873a" stroke-width="0.95"/><circle cx="457.0" cy="752.0" r="5.5" fill="#fff" stroke="#6b6b6b" stroke-width="1.4"/><circle cx="471.0" cy="752.0" r="5.5" fill="#fff" stroke="#6b6b6b" stroke-width="1.4"/><circle cx="485.0" cy="752.0" r="5.5" fill="#fff" stroke="#6b6b6b" stroke-width="1.4"/><circle cx="496.4" cy="752.0" r="5.5" fill="#fff" stroke="#6b6b6b" stroke-width="1.4"/><circle cx="507.0" cy="752.0" r="5.5" fill="#fff" stroke="#6b6b6b" stroke-width="1.4"/><circle cx="522.0" cy="752.0" r="5.5" fill="#fff" stroke="#6b6b6b" stroke-width="1.4"/><circle cx="545.0" cy="752.0" r="5.5" fill="#fff" stroke="#6b6b6b" stroke-width="1.4"/><circle cx="553.0" cy="752.0" r="5.5" fill="#fff" stroke="#6b6b6b" stroke-width="1.4"/><circle cx="577.6" cy="752.0" r="5.5" fill="#fff" stroke="#6b6b6b" stroke-width="1.4"/><circle cx="588.0" cy="752.0" r="5.5" fill="#fff" stroke="#6b6b6b" stroke-width="1.4"/><circle cx="598.0" cy="752.0" r="5.5" fill="#fff" stroke="#6b6b6b" stroke-width="1.4"/><circle cx="612.4" cy="752.0" r="5.5" fill="#fff" stroke="#6b6b6b" stroke-width="1.4"/><circle cx="623.6" cy="752.0" r="5.5" fill="#fff" stroke="#6b6b6b" stroke-width="1.4"/><circle cx="638.0" cy="752.0" r="5.5" fill="#fff" stroke="#6b6b6b" stroke-width="1.4"/><circle cx="648.0" cy="752.0" r="5.5" fill="#fff" stroke="#6b6b6b" stroke-width="1.4"/><circle cx="657.0" cy="752.0" r="5.5" fill="#fff" stroke="#6b6b6b" stroke-width="1.4"/><circle cx="456.0" cy="811.3" r="5.5" fill="#fff" stroke="#6b6b6b" stroke-width="1.4"/><circle cx="470.0" cy="811.3" r="5.5" fill="#fff" stroke="#6b6b6b" stroke-width="1.4"/><circle cx="481.0" cy="811.3" r="5.5" fill="#fff" stroke="#6b6b6b" stroke-width="1.4"/><circle cx="495.6" cy="811.3" r="5.5" fill="#fff" stroke="#6b6b6b" stroke-width="1.4"/><circle cx="510.0" cy="811.3" r="5.5" fill="#fff" stroke="#6b6b6b" stroke-width="1.4"/><circle cx="521.0" cy="811.3" r="5.5" fill="#fff" stroke="#6b6b6b" stroke-width="1.4"/><circle cx="529.0" cy="811.3" r="5.5" fill="#fff" stroke="#6b6b6b" stroke-width="1.4"/><circle cx="576.0" cy="811.3" r="5.5" fill="#fff" stroke="#6b6b6b" stroke-width="1.4"/><circle cx="587.0" cy="811.3" r="5.5" fill="#fff" stroke="#6b6b6b" stroke-width="1.4"/><circle cx="598.0" cy="811.3" r="5.5" fill="#fff" stroke="#6b6b6b" stroke-width="1.4"/><circle cx="607.0" cy="811.3" r="5.5" fill="#fff" stroke="#6b6b6b" stroke-width="1.4"/><circle cx="622.0" cy="811.3" r="5.5" fill="#fff" stroke="#6b6b6b" stroke-width="1.4"/><circle cx="637.0" cy="811.3" r="5.5" fill="#fff" stroke="#6b6b6b" stroke-width="1.4"/><circle cx="648.0" cy="811.3" r="5.5" fill="#fff" stroke="#6b6b6b" stroke-width="1.4"/><circle cx="658.0" cy="811.3" r="5.5" fill="#fff" stroke="#6b6b6b" stroke-width="1.4"/><defs><filter id="bmp" x="-10%" y="-10%" width="120%" height="120%"><feTurbulence type="fractalNoise" baseFrequency="0.45" numOctaves="2" seed="9" result="t"/><feDisplacementMap in="SourceGraphic" in2="t" scale="3.2" xChannelSelector="R" yChannelSelector="G" result="d"/><feTurbulence type="fractalNoise" baseFrequency="0.25" numOctaves="2" seed="3" result="t2"/><feColorMatrix in="t2" type="matrix" values="0 0 0 0 0.55  0 0 0 0 0.5  0 0 0 0 0.75  0 0 0 -1.4 0.75" result="sh"/><feComposite in="sh" in2="d" operator="in" result="sh2"/><feMerge><feMergeNode in="d"/><feMergeNode in="sh2"/></feMerge></filter></defs><g filter="url(#bmp)" fill="#b9b2de"><path d="M498.5,677 C498,672.5 503,671.5 505,674.5 C506.5,677.5 510.5,678 512.5,675 C514.5,671.5 520,672.5 519.8,677 C520.5,683 518.5,690 512,692.5 C506,693.5 499.5,690 498.5,684 Z"/><path d="M547.8,676.5 C547.5,672 553,671 555,674 C556.5,677 561,677.5 563,674.5 C565,671 571,672 571,677 C571.5,684 569,692 562,695.5 C555,696.5 549,691.5 548,685 Z"/><path d="M508,701 C512,697.5 521,697.5 526,700 C531,702 533,708 532.5,714 C533,720 533,728 530,733 C526,738 516,738.5 510,736 C505,733 503.5,726 504,719 C503.5,712 504,704.5 508,701 Z"/><path d="M562,699 C566,695.5 576,696 581,698.5 C586,701 587,708 586.8,714 C587,721 586,729 582,733.5 C577,737.5 567,737 562,734 C558,730 557.5,722 557.8,716 C557.5,709 558,702 562,699 Z"/><path d="M530,744 C534,741.5 542,741.5 545,744.5 C547.5,752 547,770 547.5,790 C548,805 547,815 543,818.5 C538,820.5 531,820 528.5,816 C526.5,806 527,790 527.2,772 C527,760 527,750 530,744 Z"/><path d="M552,744.5 C556,741.8 565,741.8 568.5,745 C570.5,755 570,772 570.4,790 C570.8,804 570,814 566.5,818 C561,820 553.5,819.5 551,815.5 C549,805 549.5,788 549.6,770 C549.5,759 549.5,750 552,744.5 Z"/></g><path d="M511.0,720.0 L537.0,718.0" stroke="#2e8a3a" stroke-width="1"/><circle cx="515.0" cy="718.4" r="2.3" fill="#c9f2c9" stroke="#2e8a3a" stroke-width="0.9"/><circle cx="519.5" cy="719.8" r="2.3" fill="#c9f2c9" stroke="#2e8a3a" stroke-width="0.9"/><circle cx="524.0" cy="718.4" r="2.3" fill="#c9f2c9" stroke="#2e8a3a" stroke-width="0.9"/><circle cx="528.5" cy="719.8" r="2.3" fill="#c9f2c9" stroke="#2e8a3a" stroke-width="0.9"/><circle cx="533.0" cy="718.4" r="2.3" fill="#c9f2c9" stroke="#2e8a3a" stroke-width="0.9"/><circle cx="511.0" cy="720.0" r="1.5" fill="#1e6e2a"/><path d="M554.7,720.0 L580.3,718.0" stroke="#2e8a3a" stroke-width="1"/><circle cx="558.7" cy="718.4" r="2.3" fill="#c9f2c9" stroke="#2e8a3a" stroke-width="0.9"/><circle cx="563.1" cy="719.8" r="2.3" fill="#c9f2c9" stroke="#2e8a3a" stroke-width="0.9"/><circle cx="567.5" cy="718.4" r="2.3" fill="#c9f2c9" stroke="#2e8a3a" stroke-width="0.9"/><circle cx="571.9" cy="719.8" r="2.3" fill="#c9f2c9" stroke="#2e8a3a" stroke-width="0.9"/><circle cx="576.3" cy="718.4" r="2.3" fill="#c9f2c9" stroke="#2e8a3a" stroke-width="0.9"/><circle cx="554.7" cy="720.0" r="1.5" fill="#1e6e2a"/><path d="M511,692 C516,696 517,702 515,707.3" fill="none" stroke="#222" stroke-width="1.8" stroke-linecap="round"/><path d="M560.5,689 C560,697 564,701 569.3,703.3" fill="none" stroke="#222" stroke-width="1.8" stroke-linecap="round"/><path d="M523.8,733 C530,735 534,739 534.3,744.7" fill="none" stroke="#222" stroke-width="1.8" stroke-linecap="round"/><path d="M575.7,731.3 C569,733 565,738 564.6,747.6" fill="none" stroke="#222" stroke-width="1.8" stroke-linecap="round"/><path d="M595,690.4 C604,697 608,712 601,728" fill="none" stroke="#1a1a1a" stroke-width="1.5"/><path d="M597.3,735.3 L598.8,721 L602,727 L609.2,724.5 Z" fill="#1a1a1a"/><path d="M593,819 C589,832 594,846 603,854" fill="none" stroke="#1a1a1a" stroke-width="1.5"/><path d="M609.5,859.5 L594.5,856 L601,852.5 L600,845.5 Z" fill="#1a1a1a"/><circle cx="642.5" cy="877.2" r="30.3" fill="url(#ld)" stroke="#12300a" stroke-width="1.8"/><path d="M634,866 q2,-3 5,-3" fill="none" stroke="#1a5012" stroke-width="0.9"/><circle cx="623.0" cy="873.0" r="1.25" fill="#9ee070" stroke="#1a5012" stroke-width="0.7"/><circle cx="625.8" cy="871.2" r="1.25" fill="#9ee070" stroke="#1a5012" stroke-width="0.7"/><circle cx="628.5" cy="869.5" r="1.25" fill="#9ee070" stroke="#1a5012" stroke-width="0.7"/><circle cx="631.2" cy="867.8" r="1.25" fill="#9ee070" stroke="#1a5012" stroke-width="0.7"/><circle cx="634.0" cy="866.0" r="1.25" fill="#9ee070" stroke="#1a5012" stroke-width="0.7"/><path d="M638,886 q3,1 4,4" fill="none" stroke="#1a5012" stroke-width="0.9"/><circle cx="627.0" cy="879.0" r="1.25" fill="#9ee070" stroke="#1a5012" stroke-width="0.7"/><circle cx="629.8" cy="880.8" r="1.25" fill="#9ee070" stroke="#1a5012" stroke-width="0.7"/><circle cx="632.5" cy="882.5" r="1.25" fill="#9ee070" stroke="#1a5012" stroke-width="0.7"/><circle cx="635.2" cy="884.2" r="1.25" fill="#9ee070" stroke="#1a5012" stroke-width="0.7"/><circle cx="638.0" cy="886.0" r="1.25" fill="#9ee070" stroke="#1a5012" stroke-width="0.7"/><path d="M641,870 q-1,3 1,6" fill="none" stroke="#1a5012" stroke-width="0.9"/><circle cx="640.0" cy="858.0" r="1.25" fill="#9ee070" stroke="#1a5012" stroke-width="0.7"/><circle cx="640.2" cy="861.0" r="1.25" fill="#9ee070" stroke="#1a5012" stroke-width="0.7"/><circle cx="640.5" cy="864.0" r="1.25" fill="#9ee070" stroke="#1a5012" stroke-width="0.7"/><circle cx="640.8" cy="867.0" r="1.25" fill="#9ee070" stroke="#1a5012" stroke-width="0.7"/><circle cx="641.0" cy="870.0" r="1.25" fill="#9ee070" stroke="#1a5012" stroke-width="0.7"/><path d="M658,865 q3,1 3,4 q1,3 3,5" fill="none" stroke="#1a5012" stroke-width="0.9"/><circle cx="648.0" cy="870.0" r="1.25" fill="#9ee070" stroke="#1a5012" stroke-width="0.7"/><circle cx="650.5" cy="868.8" r="1.25" fill="#9ee070" stroke="#1a5012" stroke-width="0.7"/><circle cx="653.0" cy="867.5" r="1.25" fill="#9ee070" stroke="#1a5012" stroke-width="0.7"/><circle cx="655.5" cy="866.2" r="1.25" fill="#9ee070" stroke="#1a5012" stroke-width="0.7"/><circle cx="658.0" cy="865.0" r="1.25" fill="#9ee070" stroke="#1a5012" stroke-width="0.7"/><path d="M640,891 q-3,2 -2,6 q1,3 -1,6" fill="none" stroke="#1a5012" stroke-width="0.9"/><circle cx="640.0" cy="891.0" r="1.25" fill="#9ee070" stroke="#1a5012" stroke-width="0.7"/><circle cx="642.8" cy="891.8" r="1.25" fill="#9ee070" stroke="#1a5012" stroke-width="0.7"/><circle cx="645.5" cy="892.5" r="1.25" fill="#9ee070" stroke="#1a5012" stroke-width="0.7"/><circle cx="648.2" cy="893.2" r="1.25" fill="#9ee070" stroke="#1a5012" stroke-width="0.7"/><circle cx="651.0" cy="894.0" r="1.25" fill="#9ee070" stroke="#1a5012" stroke-width="0.7"/><circle cx="629.0" cy="896.0" r="1.25" fill="#9ee070" stroke="#1a5012" stroke-width="0.7"/><circle cx="630.2" cy="897.5" r="1.25" fill="#9ee070" stroke="#1a5012" stroke-width="0.7"/><circle cx="631.5" cy="899.0" r="1.25" fill="#9ee070" stroke="#1a5012" stroke-width="0.7"/><circle cx="632.8" cy="900.5" r="1.25" fill="#9ee070" stroke="#1a5012" stroke-width="0.7"/><circle cx="634.0" cy="902.0" r="1.25" fill="#9ee070" stroke="#1a5012" stroke-width="0.7"/></svg>
<svg class="ov" width="1200" height="1557" viewBox="0 0 1200 1557"><g fill="#1891d5" font-family="Liberation Sans" font-weight="bold" font-size="200"><text transform="translate(142.71,162.65) scale(0.3177,0.3023)">e</text><rect x="177.3" y="119.8" width="7.8" height="42.8"/><rect x="187.3" y="119.8" width="8.4" height="42.8"/></g><mask id="cgap" maskUnits="userSpaceOnUse" x="95" y="110" width="60" height="60"><rect x="95" y="110" width="60" height="60" fill="#fff"/><rect x="128" y="132.8" width="25" height="15.5" fill="#000"/></mask><path mask="url(#cgap)" fill-rule="evenodd" fill="#1891d5" d="M105.8,141.2 a19.55,22.5 0 1 0 39.1,0 a19.55,22.5 0 1 0 -39.1,0 Z M115,141.5 a11.5,15.3 0 1 0 23,0 a11.5,15.3 0 1 0 -23,0 Z"/><circle cx="938.6" cy="1440.0" r="6.7" fill="none" stroke="#1891d5" stroke-width="6.8"/><path d="M927.60,1440.00 A11,11 0 0 1 938.60,1429.00 L938.60,1434.40 A5.6,5.6 0 0 0 933.00,1440.00Z" fill="#fff"/><circle cx="929.8" cy="1448.3" r="6.8" fill="none" stroke="#1891d5" stroke-width="7"/><path d="M940.80,1448.30 A11,11 0 0 1 929.80,1459.30 L929.80,1453.90 A5.6,5.6 0 0 0 935.40,1448.30Z" fill="#fff"/><path d="M944.90,1442.29 A6.7,6.7 0 0 1 935.25,1445.80" fill="none" stroke="#1891d5" stroke-width="6.8"/><defs><linearGradient id="cmb" x1="0" y1="0" x2="0" y2="1"><stop offset="0" stop-color="#f4f4f4"/><stop offset="1" stop-color="#d8d8d8"/></linearGradient><linearGradient id="cmr" x1="0" y1="0" x2="1" y2="1"><stop offset="0" stop-color="#f2c230"/><stop offset="0.5" stop-color="#9ccf6a"/><stop offset="1" stop-color="#3aa7a0"/></linearGradient></defs><rect x="105.8" y="1408.5" width="31.6" height="31.4" fill="url(#cmb)" stroke="#cfcfcf" stroke-width="0.8"/><rect x="107" y="1409.6" width="29.2" height="29.2" fill="#fbfbfb"/><circle cx="120.9" cy="1417.6" r="6.9" fill="none" stroke="url(#cmr)" stroke-width="3"/><path d="M114.5,1417.5 A6.9,6.9 0 0 0 121,1424.5" fill="none" stroke="#f0a030" stroke-width="3"/><path d="M118.2,1412.5 L124,1412.5 L124,1421.6 L121.1,1419.2 L118.2,1421.6 Z" fill="#e5173f"/><text x="121.6" y="1431" font-family="Liberation Sans" font-size="4.6" text-anchor="middle" fill="#333">Check for</text><text x="121.6" y="1436" font-family="Liberation Sans" font-size="4.6" text-anchor="middle" fill="#333">updates</text></svg>
<div class="t" style="left:962.10px;top:98.60px;font-size:35px;font-weight:bold;color:#bababa;letter-spacing:1.364px;">Article</div>
<div class="t tt" style="left:106.00px;top:194.80px;font-size:37px;font-weight:bold;color:#000;letter-spacing:1.891px;">Cell</div>
<div class="t tt" style="left:190.00px;top:194.80px;font-size:37px;font-weight:bold;color:#000;letter-spacing:1.702px;">membranes</div>
<div class="t tt" style="left:422.75px;top:194.80px;font-size:37px;font-weight:bold;color:#000;letter-spacing:1.011px;">sustain</div>
<div class="t tt" style="left:570.00px;top:194.80px;font-size:37px;font-weight:bold;color:#000;letter-spacing:0.698px;">phospholipid</div>
<div class="t tt" style="left:821.30px;top:194.80px;font-size:37px;font-weight:bold;color:#000;letter-spacing:1.507px;">imbalance</div>
<div class="t tt" style="left:1025.25px;top:194.80px;font-size:37px;font-weight:bold;color:#000;letter-spacing:0.596px;">via</div>
<div class="t tt" style="left:105.75px;top:236.90px;font-size:37px;font-weight:bold;color:#000;letter-spacing:1.414px;">cholesterol</div>
<div class="t tt" style="left:328.00px;top:236.90px;font-size:37px;font-weight:bold;color:#000;letter-spacing:1.334px;">asymmetry</div>
<div class="t" style="left:105.40px;top:302.20px;font-size:24px;color:#1a8dcb;letter-spacing:0.427px;">Graphical abstract</div>
<div class="t" style="left:105.70px;top:939.70px;font-size:24px;color:#1a8dcb;letter-spacing:0.401px;">Highlights</div>
<div class="t" style="left:706.30px;top:302.00px;font-size:24px;color:#1a8dcb;letter-spacing:0.298px;">Authors</div>
<div class="t" style="left:705.80px;top:336.75px;font-size:20px;letter-spacing:0.264px;">Milka Doktorova, Jessica L. Symons,</div>
<div class="t" style="left:705.80px;top:364.70px;font-size:20px;letter-spacing:0.166px;">Xiaoxuan Zhang, ..., Edward Lyman,</div>
<div class="t" style="left:705.80px;top:392.30px;font-size:20px;letter-spacing:0.092px;">Kandice R. Levental, Ilya Levental</div>
<div class="t" style="left:705.30px;top:445.00px;font-size:24px;color:#1a8dcb;letter-spacing:0.462px;">Correspondence</div>
<div class="t" style="left:705.50px;top:476.80px;font-size:20px;letter-spacing:0.197px;">milka.doktorova@dbb.su.se (M.D.),</div>
<div class="t" style="left:705.50px;top:500.00px;font-size:20px;letter-spacing:0.072px;">krl6c@virginia.edu (K.R.L.),</div>
<div class="t" style="left:705.50px;top:523.60px;font-size:20px;letter-spacing:-0.067px;">il2sy@virginia.edu (I.L.)</div>
<div class="t" style="left:704.50px;top:575.30px;font-size:24px;color:#1a8dcb;letter-spacing:0.500px;">In brief</div>
<div class="t" style="left:705.80px;top:609.80px;font-size:20px;letter-spacing:0.210px;">This work challenges a major assumption</div>
<div class="t" style="left:705.80px;top:637.55px;font-size:20px;letter-spacing:0.447px;">in cell biology by showing that lipid</div>
<div class="t" style="left:705.80px;top:665.30px;font-size:20px;letter-spacing:0.302px;">bilayers can have drastically different</div>
<div class="t" style="left:705.80px;top:693.05px;font-size:20px;letter-spacing:0.438px;">phospholipid abundances between their</div>
<div class="t" style="left:705.80px;top:720.80px;font-size:20px;letter-spacing:0.324px;">two leaflets. This lipid abundance</div>
<div class="t" style="left:705.80px;top:748.55px;font-size:20px;letter-spacing:0.298px;">asymmetry is enabled by the unique</div>
<div class="t" style="left:705.80px;top:776.30px;font-size:20px;letter-spacing:0.410px;">properties of cholesterol and endows</div>
<div class="t" style="left:705.80px;top:804.05px;font-size:20px;letter-spacing:0.319px;">biomembranes with distinctive properties</div>
<div class="t" style="left:705.80px;top:831.80px;font-size:20px;letter-spacing:0.220px;">and physiological roles.</div>
<div class="t" style="left:131.20px;top:973.80px;font-size:20px;letter-spacing:0.064px;">The two leaflets of mammalian plasma membranes can differ</div>
<div class="t" style="left:131.20px;top:1001.55px;font-size:20px;letter-spacing:0.350px;">in their lipid abundances</div>
<div class="t" style="left:131.20px;top:1049.50px;font-size:20px;letter-spacing:0.374px;">Phospholipid abundance asymmetry can be stabilized by</div>
<div class="t" style="left:131.20px;top:1077.25px;font-size:20px;letter-spacing:0.296px;">high cholesterol levels</div>
<div class="t" style="left:131.20px;top:1123.80px;font-size:20px;letter-spacing:0.386px;">Phospholipid and cholesterol asymmetries produce unique</div>
<div class="t" style="left:131.20px;top:1151.55px;font-size:20px;letter-spacing:0.373px;">membrane properties</div>
<div class="t" style="left:131.20px;top:1199.00px;font-size:20px;letter-spacing:0.293px;">Cellular cholesterol homeostasis is regulated by</div>
<div class="t" style="left:131.20px;top:1226.75px;font-size:20px;letter-spacing:0.443px;">phospholipid asymmetries</div>
<div class="t" style="left:200.25px;top:1381.75px;font-size:17px;letter-spacing:0.036px;">Doktorova et al., 2025, Cell <i>188</i>, 2586–2602</div>
<div class="t" style="left:200.25px;top:1401.75px;font-size:17px;letter-spacing:0.209px;">May 15, 2025 © 2025 Elsevier Inc. All rights are reserved, including those for</div>
<div class="t" style="left:200.25px;top:1421.25px;font-size:17px;letter-spacing:0.285px;">text and data mining, AI training, and similar technologies.</div>
<div class="t" style="left:200.25px;top:1440.25px;font-size:17px;color:#1a8dcb;letter-spacing:0.245px;">https://doi.org/10.1016/j.cell.2025.02.034</div>
<div class="t" style="left:956.60px;top:1429.30px;font-size:31px;font-weight:bold;color:#1891d5;letter-spacing:-2.072px;">CellPress</div>
<div class="t fg" style="left:134.50px;top:346.80px;font-size:23.5px;color:#231f20;letter-spacing:0.026px;">new dimension of plasma membrane asymmetry</div>
<div class="t fg" style="left:189.90px;top:383.30px;font-size:17.6px;color:#231f20;letter-spacing:0.016px;">exoplasmic: fewer phospholipids, more cholesterol</div>
<div class="t fg" style="left:188.50px;top:517.70px;font-size:17.6px;color:#231f20;letter-spacing:0.065px;">cytoplasmic: more phospholipids, less cholesterol</div>
<div class="t fg" style="left:197.30px;top:563.00px;font-size:21.5px;color:#231f20;letter-spacing:0.052px;">asymmetry regulates PM properties and</div>
<div class="t fg" style="left:272.90px;top:584.50px;font-size:21.5px;color:#231f20;letter-spacing:0.055px;">cholesterol homeostasis</div>
<div class="t fg" style="left:115.70px;top:649.60px;font-size:17.6px;color:#231f20;letter-spacing:0.042px;">intrinisic leaflet</div>
<div class="t fg" style="left:142.00px;top:665.00px;font-size:17.6px;color:#231f20;letter-spacing:-0.258px;">stresses</div>
<div class="t fg" style="left:313.30px;top:639.00px;font-size:17.6px;color:#231f20;letter-spacing:-0.066px;">reduced</div>
<div class="t fg" style="left:313.30px;top:654.50px;font-size:17.6px;color:#231f20;letter-spacing:-0.059px;">permeability</div>
<div class="t fg" style="left:131.30px;top:803.50px;font-size:17.6px;color:#231f20;letter-spacing:-0.026px;">tension induced defects</div>
<div class="t fg" style="left:450.00px;top:817.75px;font-size:20px;color:#231f20;letter-spacing:-1.090px;">ER</div>
<div class="t fg" style="left:554.50px;top:866.90px;font-size:19px;color:#231f20;letter-spacing:0.092px;">lipid</div>
<div class="t fg" style="left:538.30px;top:887.10px;font-size:19px;color:#231f20;letter-spacing:0.101px;">droplets</div>
<div class="bul" style="left:106.25px;top:981.65px"></div>
<div class="bul" style="left:106.25px;top:1057.35px"></div>
<div class="bul" style="left:106.25px;top:1132.05px"></div>
<div class="bul" style="left:106.25px;top:1206.85px"></div>
</body></html>
